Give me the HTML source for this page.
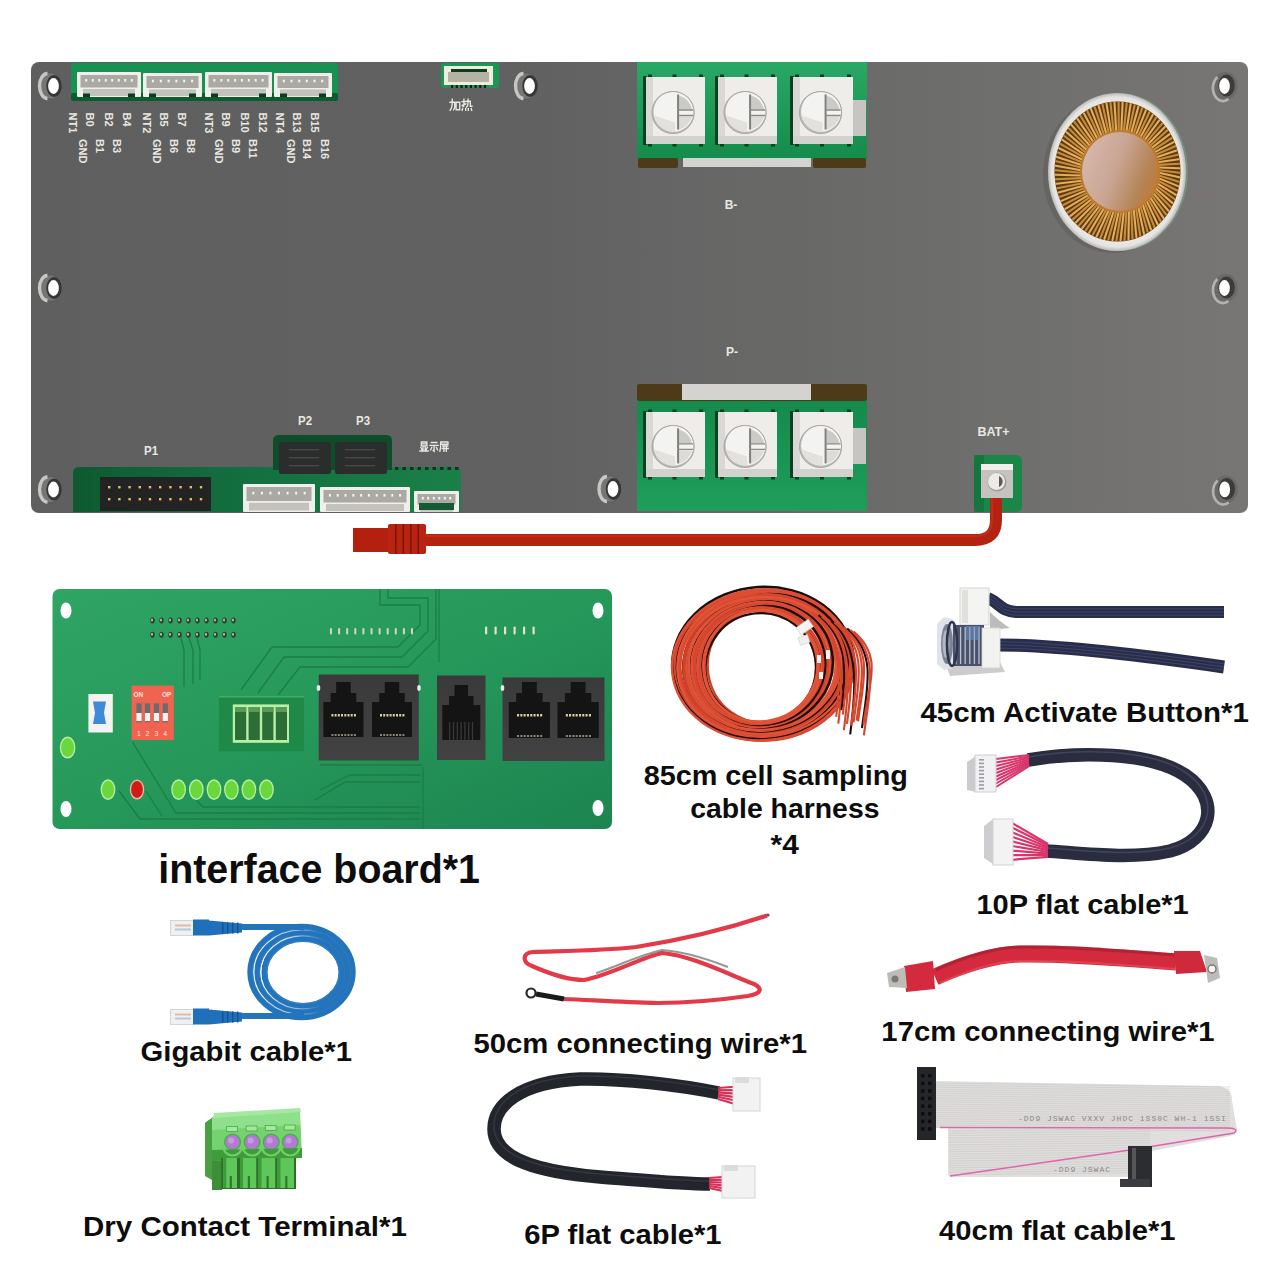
<!DOCTYPE html>
<html><head><meta charset="utf-8"><title>BMS board kit</title>
<style>
html,body{margin:0;padding:0;background:#fff;width:1280px;height:1280px;overflow:hidden}
svg{display:block}
.lb{font-family:"Liberation Sans",sans-serif;font-weight:bold;fill:#0d0d0d}
.sm{font-family:"Liberation Sans",sans-serif;font-weight:bold;fill:#e9e8e2}
</style></head><body>
<svg width="1280" height="1280" viewBox="0 0 1280 1280">
<defs>
 <linearGradient id="gBoard" x1="0" x2="1" y1="0" y2="0">
  <stop offset="0" stop-color="#5f5f5f"/><stop offset="0.4" stop-color="#616161"/><stop offset="0.7" stop-color="#6b6b6a"/><stop offset="1" stop-color="#777674"/>
 </linearGradient>
 <linearGradient id="gGreenT" x1="0" x2="0" y1="0" y2="1">
  <stop offset="0" stop-color="#2aa866"/><stop offset="1" stop-color="#148c4b"/>
 </linearGradient>
 <linearGradient id="gGreenB" x1="0" x2="0" y1="0" y2="1">
  <stop offset="0" stop-color="#13874a"/><stop offset="1" stop-color="#1f9e5a"/>
 </linearGradient>
 <linearGradient id="gGreenBL" x1="0" x2="1" y1="0" y2="0">
  <stop offset="0" stop-color="#0e5a30"/><stop offset="0.45" stop-color="#137040"/><stop offset="1" stop-color="#1a8047"/>
 </linearGradient>
 <linearGradient id="gIface" x1="0" x2="1" y1="0" y2="1">
  <stop offset="0" stop-color="#2fa464"/><stop offset="0.45" stop-color="#279a5b"/><stop offset="1" stop-color="#1c8450"/>
 </linearGradient>
 <linearGradient id="gCore" x1="0" x2="1" y1="0.3" y2="0.7">
  <stop offset="0" stop-color="#d6b8ad"/><stop offset="0.45" stop-color="#c9a492"/><stop offset="0.8" stop-color="#b58458"/><stop offset="1" stop-color="#c07a32"/>
 </linearGradient>
 <radialGradient id="gDisk" cx="0.5" cy="0.5" r="0.5">
  <stop offset="0.8" stop-color="#f1f0ec"/><stop offset="0.95" stop-color="#e4e3df"/><stop offset="1" stop-color="#b9b8b4"/>
 </radialGradient>
 <linearGradient id="gRJ" x1="0" x2="0" y1="0" y2="1">
  <stop offset="0" stop-color="#3a3a3a"/><stop offset="1" stop-color="#424242"/>
 </linearGradient>
</defs>
<rect width="1280" height="1280" fill="#fff"/>

<g id="main">
<rect x="31" y="62" width="1217" height="451" rx="8" fill="url(#gBoard)"/>
<rect x="71" y="63" width="267" height="38" rx="3" fill="#189253"/>
<rect x="71" y="93" width="267" height="8" rx="2" fill="#0d5c30"/>
<rect x="77" y="72" width="64" height="25" fill="#f0efeb" rx="1"/>
<rect x="80.5" y="75" width="57" height="12.5" fill="#aaa9a4"/>
<rect x="83" y="89.0" width="52" height="7.0" fill="#c3c2bd"/>
<rect x="83" y="93.5" width="7" height="3.5" fill="#0c3b1e"/>
<rect x="128" y="93.5" width="7" height="3.5" fill="#0c3b1e"/>
<rect x="85.2" y="79.0" width="2" height="2.6" fill="#f7f4e8"/>
<rect x="91.8" y="79.0" width="2" height="2.6" fill="#f7f4e8"/>
<rect x="98.2" y="79.0" width="2" height="2.6" fill="#f7f4e8"/>
<rect x="104.8" y="79.0" width="2" height="2.6" fill="#f7f4e8"/>
<rect x="111.2" y="79.0" width="2" height="2.6" fill="#f7f4e8"/>
<rect x="117.8" y="79.0" width="2" height="2.6" fill="#f7f4e8"/>
<rect x="124.2" y="79.0" width="2" height="2.6" fill="#f7f4e8"/>
<rect x="130.8" y="79.0" width="2" height="2.6" fill="#f7f4e8"/>
<rect x="143" y="73" width="59" height="24" fill="#f0efeb" rx="1"/>
<rect x="146.5" y="76" width="52" height="12.0" fill="#aaa9a4"/>
<rect x="149" y="89.4" width="47" height="6.7" fill="#c3c2bd"/>
<rect x="149" y="93.5" width="7" height="3.5" fill="#0c3b1e"/>
<rect x="189" y="93.5" width="7" height="3.5" fill="#0c3b1e"/>
<rect x="151.9" y="79.7" width="2" height="2.6" fill="#f7f4e8"/>
<rect x="159.8" y="79.7" width="2" height="2.6" fill="#f7f4e8"/>
<rect x="167.6" y="79.7" width="2" height="2.6" fill="#f7f4e8"/>
<rect x="175.4" y="79.7" width="2" height="2.6" fill="#f7f4e8"/>
<rect x="183.2" y="79.7" width="2" height="2.6" fill="#f7f4e8"/>
<rect x="191.1" y="79.7" width="2" height="2.6" fill="#f7f4e8"/>
<rect x="205" y="72" width="67" height="25" fill="#f0efeb" rx="1"/>
<rect x="208.5" y="75" width="60" height="12.5" fill="#aaa9a4"/>
<rect x="211" y="89.0" width="55" height="7.0" fill="#c3c2bd"/>
<rect x="211" y="93.5" width="7" height="3.5" fill="#0c3b1e"/>
<rect x="259" y="93.5" width="7" height="3.5" fill="#0c3b1e"/>
<rect x="213.4" y="79.0" width="2" height="2.6" fill="#f7f4e8"/>
<rect x="220.3" y="79.0" width="2" height="2.6" fill="#f7f4e8"/>
<rect x="227.2" y="79.0" width="2" height="2.6" fill="#f7f4e8"/>
<rect x="234.1" y="79.0" width="2" height="2.6" fill="#f7f4e8"/>
<rect x="240.9" y="79.0" width="2" height="2.6" fill="#f7f4e8"/>
<rect x="247.8" y="79.0" width="2" height="2.6" fill="#f7f4e8"/>
<rect x="254.7" y="79.0" width="2" height="2.6" fill="#f7f4e8"/>
<rect x="261.6" y="79.0" width="2" height="2.6" fill="#f7f4e8"/>
<rect x="274" y="73" width="58" height="24" fill="#f0efeb" rx="1"/>
<rect x="277.5" y="76" width="51" height="12.0" fill="#aaa9a4"/>
<rect x="280" y="89.4" width="46" height="6.7" fill="#c3c2bd"/>
<rect x="280" y="93.5" width="7" height="3.5" fill="#0c3b1e"/>
<rect x="319" y="93.5" width="7" height="3.5" fill="#0c3b1e"/>
<rect x="282.8" y="79.7" width="2" height="2.6" fill="#f7f4e8"/>
<rect x="290.5" y="79.7" width="2" height="2.6" fill="#f7f4e8"/>
<rect x="298.2" y="79.7" width="2" height="2.6" fill="#f7f4e8"/>
<rect x="305.8" y="79.7" width="2" height="2.6" fill="#f7f4e8"/>
<rect x="313.5" y="79.7" width="2" height="2.6" fill="#f7f4e8"/>
<rect x="321.2" y="79.7" width="2" height="2.6" fill="#f7f4e8"/>
<text class="sm" font-size="11" transform="translate(69.2,112.5) rotate(90)">NT1</text>
<text class="sm" font-size="11" transform="translate(86.2,112.5) rotate(90)">B0</text>
<text class="sm" font-size="11" transform="translate(104.8,112.5) rotate(90)">B2</text>
<text class="sm" font-size="11" transform="translate(123.4,112.5) rotate(90)">B4</text>
<text class="sm" font-size="11" transform="translate(142.5,112.5) rotate(90)">NT2</text>
<text class="sm" font-size="11" transform="translate(160.0,112.5) rotate(90)">B5</text>
<text class="sm" font-size="11" transform="translate(177.5,112.5) rotate(90)">B7</text>
<text class="sm" font-size="11" transform="translate(204.8,112.5) rotate(90)">NT3</text>
<text class="sm" font-size="11" transform="translate(222.4,112.5) rotate(90)">B9</text>
<text class="sm" font-size="11" transform="translate(241.0,112.5) rotate(90)">B10</text>
<text class="sm" font-size="11" transform="translate(258.7,112.5) rotate(90)">B12</text>
<text class="sm" font-size="11" transform="translate(276.3,112.5) rotate(90)">NT4</text>
<text class="sm" font-size="11" transform="translate(292.7,112.5) rotate(90)">B13</text>
<text class="sm" font-size="11" transform="translate(311.4,112.5) rotate(90)">B15</text>
<text class="sm" font-size="11" transform="translate(79.4,139.0) rotate(90)">GND</text>
<text class="sm" font-size="11" transform="translate(95.8,139.0) rotate(90)">B1</text>
<text class="sm" font-size="11" transform="translate(113.4,139.0) rotate(90)">B3</text>
<text class="sm" font-size="11" transform="translate(153.3,139.0) rotate(90)">GND</text>
<text class="sm" font-size="11" transform="translate(169.7,139.0) rotate(90)">B6</text>
<text class="sm" font-size="11" transform="translate(187.2,139.0) rotate(90)">B8</text>
<text class="sm" font-size="11" transform="translate(215.4,139.0) rotate(90)">GND</text>
<text class="sm" font-size="11" transform="translate(231.8,139.0) rotate(90)">B9</text>
<text class="sm" font-size="11" transform="translate(249.3,139.0) rotate(90)">B11</text>
<text class="sm" font-size="11" transform="translate(286.8,139.0) rotate(90)">GND</text>
<text class="sm" font-size="11" transform="translate(303.2,139.0) rotate(90)">B14</text>
<text class="sm" font-size="11" transform="translate(320.8,139.0) rotate(90)">B16</text>
<rect x="441" y="63" width="58" height="25" rx="3" fill="#1b9656"/>
<rect x="444" y="66" width="49" height="19" fill="#efeedd"/>
<rect x="448" y="72" width="41" height="10" fill="#b3b2a4"/>
<rect x="451" y="69" width="36" height="3" fill="#0c3b1e"/>
<rect x="451.0" y="85" width="2.2" height="3" fill="#1a1a1a"/>
<rect x="455.7" y="85" width="2.2" height="3" fill="#1a1a1a"/>
<rect x="460.4" y="85" width="2.2" height="3" fill="#1a1a1a"/>
<rect x="465.1" y="85" width="2.2" height="3" fill="#1a1a1a"/>
<rect x="469.8" y="85" width="2.2" height="3" fill="#1a1a1a"/>
<rect x="474.5" y="85" width="2.2" height="3" fill="#1a1a1a"/>
<rect x="479.2" y="85" width="2.2" height="3" fill="#1a1a1a"/>
<rect x="483.9" y="85" width="2.2" height="3" fill="#1a1a1a"/>
<rect x="637" y="62" width="230" height="97" fill="url(#gGreenT)"/>
<rect x="638" y="158" width="40" height="10" rx="2" fill="#4c3a18"/>
<rect x="683" y="158" width="128" height="9" fill="#d4d3cf"/>
<rect x="813" y="158" width="53" height="10" rx="2" fill="#4c3a18"/>
<rect x="853" y="100" width="13" height="36" fill="#c6c5c1"/>
<rect x="643" y="76" width="4" height="69" fill="#0b3f20"/>
<rect x="648.0" y="74.5" width="4" height="3" fill="#0b3f20"/>
<rect x="648.0" y="143.5" width="4" height="3" fill="#0b3f20"/>
<rect x="672.5" y="74.5" width="4" height="3" fill="#0b3f20"/>
<rect x="672.5" y="143.5" width="4" height="3" fill="#0b3f20"/>
<rect x="699.0" y="74.5" width="4" height="3" fill="#0b3f20"/>
<rect x="699.0" y="143.5" width="4" height="3" fill="#0b3f20"/>
<rect x="646" y="77" width="59" height="67" fill="#eeedea"/>
<rect x="646" y="77" width="7" height="67" fill="#d9d8d4"/>
<rect x="646" y="136" width="59" height="8" fill="#d3d2ce"/>
<circle cx="673.1" cy="112.5" r="21.5" fill="#bdbcb8"/>
<circle cx="673.6" cy="111.7" r="20" fill="#f3f3f1"/>
<path d="M654.1,115.5 A20,20 0 0 0 675.1,131.5 L675.1,122.5 Z" fill="#e2e1dd"/>
<path d="M679.1,95.5 A20,20 0 0 1 692.1,109.5 L679.1,109.5 Z" fill="#cbcac6"/>
<path d="M679.1,116.5 L692.1,116.5 A20,20 0 0 1 679.1,129.5 Z" fill="#dcdbd7"/>
<path d="M678.1,94.5 L678.1,129.5" stroke="#7f7e7a" stroke-width="2"/>
<path d="M678.1,110.0 L693.1,110.0 M678.1,115.5 L693.1,115.5" stroke="#8b8a86" stroke-width="1.4"/>
<circle cx="673.1" cy="112.5" r="21" fill="none" stroke="#a9a8a4" stroke-width="1"/>
<rect x="715" y="76" width="4" height="69" fill="#0b3f20"/>
<rect x="720.0" y="74.5" width="4" height="3" fill="#0b3f20"/>
<rect x="720.0" y="143.5" width="4" height="3" fill="#0b3f20"/>
<rect x="744.5" y="74.5" width="4" height="3" fill="#0b3f20"/>
<rect x="744.5" y="143.5" width="4" height="3" fill="#0b3f20"/>
<rect x="771.0" y="74.5" width="4" height="3" fill="#0b3f20"/>
<rect x="771.0" y="143.5" width="4" height="3" fill="#0b3f20"/>
<rect x="718" y="77" width="59" height="67" fill="#eeedea"/>
<rect x="718" y="77" width="7" height="67" fill="#d9d8d4"/>
<rect x="718" y="136" width="59" height="8" fill="#d3d2ce"/>
<circle cx="745.1" cy="112.5" r="21.5" fill="#bdbcb8"/>
<circle cx="745.6" cy="111.7" r="20" fill="#f3f3f1"/>
<path d="M726.1,115.5 A20,20 0 0 0 747.1,131.5 L747.1,122.5 Z" fill="#e2e1dd"/>
<path d="M751.1,95.5 A20,20 0 0 1 764.1,109.5 L751.1,109.5 Z" fill="#cbcac6"/>
<path d="M751.1,116.5 L764.1,116.5 A20,20 0 0 1 751.1,129.5 Z" fill="#dcdbd7"/>
<path d="M750.1,94.5 L750.1,129.5" stroke="#7f7e7a" stroke-width="2"/>
<path d="M750.1,110.0 L765.1,110.0 M750.1,115.5 L765.1,115.5" stroke="#8b8a86" stroke-width="1.4"/>
<circle cx="745.1" cy="112.5" r="21" fill="none" stroke="#a9a8a4" stroke-width="1"/>
<rect x="790" y="76" width="4" height="69" fill="#0b3f20"/>
<rect x="795.0" y="74.5" width="4" height="3" fill="#0b3f20"/>
<rect x="795.0" y="143.5" width="4" height="3" fill="#0b3f20"/>
<rect x="820.0" y="74.5" width="4" height="3" fill="#0b3f20"/>
<rect x="820.0" y="143.5" width="4" height="3" fill="#0b3f20"/>
<rect x="847.0" y="74.5" width="4" height="3" fill="#0b3f20"/>
<rect x="847.0" y="143.5" width="4" height="3" fill="#0b3f20"/>
<rect x="793" y="77" width="60" height="67" fill="#eeedea"/>
<rect x="793" y="77" width="7" height="67" fill="#d9d8d4"/>
<rect x="793" y="136" width="60" height="8" fill="#d3d2ce"/>
<circle cx="820.6" cy="112.5" r="21.5" fill="#bdbcb8"/>
<circle cx="821.1" cy="111.7" r="20" fill="#f3f3f1"/>
<path d="M801.6,115.5 A20,20 0 0 0 822.6,131.5 L822.6,122.5 Z" fill="#e2e1dd"/>
<path d="M826.6,95.5 A20,20 0 0 1 839.6,109.5 L826.6,109.5 Z" fill="#cbcac6"/>
<path d="M826.6,116.5 L839.6,116.5 A20,20 0 0 1 826.6,129.5 Z" fill="#dcdbd7"/>
<path d="M825.6,94.5 L825.6,129.5" stroke="#7f7e7a" stroke-width="2"/>
<path d="M825.6,110.0 L840.6,110.0 M825.6,115.5 L840.6,115.5" stroke="#8b8a86" stroke-width="1.4"/>
<circle cx="820.6" cy="112.5" r="21" fill="none" stroke="#a9a8a4" stroke-width="1"/>
<rect x="637" y="384" width="230" height="127" fill="url(#gGreenB)"/>
<rect x="637" y="384" width="230" height="17" rx="3" fill="#4c3a18"/>
<rect x="682" y="384" width="129" height="16" fill="#d4d3cf"/>
<rect x="853" y="428" width="13" height="36" fill="#c6c5c1"/>
<rect x="643" y="411" width="4" height="67" fill="#0b3f20"/>
<rect x="648.0" y="409.5" width="4" height="3" fill="#0b3f20"/>
<rect x="648.0" y="476.5" width="4" height="3" fill="#0b3f20"/>
<rect x="672.5" y="409.5" width="4" height="3" fill="#0b3f20"/>
<rect x="672.5" y="476.5" width="4" height="3" fill="#0b3f20"/>
<rect x="699.0" y="409.5" width="4" height="3" fill="#0b3f20"/>
<rect x="699.0" y="476.5" width="4" height="3" fill="#0b3f20"/>
<rect x="646" y="412" width="59" height="65" fill="#eeedea"/>
<rect x="646" y="412" width="7" height="65" fill="#d9d8d4"/>
<rect x="646" y="469" width="59" height="8" fill="#d3d2ce"/>
<circle cx="673.1" cy="446.4" r="21.5" fill="#bdbcb8"/>
<circle cx="673.6" cy="445.6" r="20" fill="#f3f3f1"/>
<path d="M654.1,449.4 A20,20 0 0 0 675.1,465.4 L675.1,456.4 Z" fill="#e2e1dd"/>
<path d="M679.1,429.4 A20,20 0 0 1 692.1,443.4 L679.1,443.4 Z" fill="#cbcac6"/>
<path d="M679.1,450.4 L692.1,450.4 A20,20 0 0 1 679.1,463.4 Z" fill="#dcdbd7"/>
<path d="M678.1,428.4 L678.1,463.4" stroke="#7f7e7a" stroke-width="2"/>
<path d="M678.1,443.9 L693.1,443.9 M678.1,449.4 L693.1,449.4" stroke="#8b8a86" stroke-width="1.4"/>
<circle cx="673.1" cy="446.4" r="21" fill="none" stroke="#a9a8a4" stroke-width="1"/>
<rect x="715" y="411" width="4" height="67" fill="#0b3f20"/>
<rect x="720.0" y="409.5" width="4" height="3" fill="#0b3f20"/>
<rect x="720.0" y="476.5" width="4" height="3" fill="#0b3f20"/>
<rect x="744.5" y="409.5" width="4" height="3" fill="#0b3f20"/>
<rect x="744.5" y="476.5" width="4" height="3" fill="#0b3f20"/>
<rect x="771.0" y="409.5" width="4" height="3" fill="#0b3f20"/>
<rect x="771.0" y="476.5" width="4" height="3" fill="#0b3f20"/>
<rect x="718" y="412" width="59" height="65" fill="#eeedea"/>
<rect x="718" y="412" width="7" height="65" fill="#d9d8d4"/>
<rect x="718" y="469" width="59" height="8" fill="#d3d2ce"/>
<circle cx="745.1" cy="446.4" r="21.5" fill="#bdbcb8"/>
<circle cx="745.6" cy="445.6" r="20" fill="#f3f3f1"/>
<path d="M726.1,449.4 A20,20 0 0 0 747.1,465.4 L747.1,456.4 Z" fill="#e2e1dd"/>
<path d="M751.1,429.4 A20,20 0 0 1 764.1,443.4 L751.1,443.4 Z" fill="#cbcac6"/>
<path d="M751.1,450.4 L764.1,450.4 A20,20 0 0 1 751.1,463.4 Z" fill="#dcdbd7"/>
<path d="M750.1,428.4 L750.1,463.4" stroke="#7f7e7a" stroke-width="2"/>
<path d="M750.1,443.9 L765.1,443.9 M750.1,449.4 L765.1,449.4" stroke="#8b8a86" stroke-width="1.4"/>
<circle cx="745.1" cy="446.4" r="21" fill="none" stroke="#a9a8a4" stroke-width="1"/>
<rect x="790" y="411" width="4" height="67" fill="#0b3f20"/>
<rect x="795.0" y="409.5" width="4" height="3" fill="#0b3f20"/>
<rect x="795.0" y="476.5" width="4" height="3" fill="#0b3f20"/>
<rect x="820.0" y="409.5" width="4" height="3" fill="#0b3f20"/>
<rect x="820.0" y="476.5" width="4" height="3" fill="#0b3f20"/>
<rect x="847.0" y="409.5" width="4" height="3" fill="#0b3f20"/>
<rect x="847.0" y="476.5" width="4" height="3" fill="#0b3f20"/>
<rect x="793" y="412" width="60" height="65" fill="#eeedea"/>
<rect x="793" y="412" width="7" height="65" fill="#d9d8d4"/>
<rect x="793" y="469" width="60" height="8" fill="#d3d2ce"/>
<circle cx="820.6" cy="446.4" r="21.5" fill="#bdbcb8"/>
<circle cx="821.1" cy="445.6" r="20" fill="#f3f3f1"/>
<path d="M801.6,449.4 A20,20 0 0 0 822.6,465.4 L822.6,456.4 Z" fill="#e2e1dd"/>
<path d="M826.6,429.4 A20,20 0 0 1 839.6,443.4 L826.6,443.4 Z" fill="#cbcac6"/>
<path d="M826.6,450.4 L839.6,450.4 A20,20 0 0 1 826.6,463.4 Z" fill="#dcdbd7"/>
<path d="M825.6,428.4 L825.6,463.4" stroke="#7f7e7a" stroke-width="2"/>
<path d="M825.6,443.9 L840.6,443.9 M825.6,449.4 L840.6,449.4" stroke="#8b8a86" stroke-width="1.4"/>
<circle cx="820.6" cy="446.4" r="21" fill="none" stroke="#a9a8a4" stroke-width="1"/>
<ellipse cx="1113" cy="174" rx="70" ry="79" fill="#4f4f4e" opacity="0.35"/>
<ellipse cx="1119" cy="172" rx="69" ry="79" fill="#6fb08e" opacity="0.5"/>
<ellipse cx="1117" cy="172" rx="69" ry="79" fill="url(#gDisk)"/>
<ellipse cx="1117.5" cy="171.5" rx="63" ry="70" fill="#5b3b12"/>
<line x1="1159.0" y1="172.8" x2="1179.3" y2="177.2" stroke="#e3ad5c" stroke-width="2.1" stroke-linecap="round"/>
<line x1="1158.8" y1="175.5" x2="1178.8" y2="181.7" stroke="#c98b3a" stroke-width="2.1" stroke-linecap="round"/>
<line x1="1158.5" y1="178.1" x2="1178.1" y2="186.1" stroke="#e3ad5c" stroke-width="2.1" stroke-linecap="round"/>
<line x1="1158.0" y1="180.7" x2="1177.1" y2="190.5" stroke="#c98b3a" stroke-width="2.1" stroke-linecap="round"/>
<line x1="1157.3" y1="183.3" x2="1175.9" y2="194.8" stroke="#e3ad5c" stroke-width="2.1" stroke-linecap="round"/>
<line x1="1156.5" y1="185.8" x2="1174.4" y2="199.0" stroke="#c98b3a" stroke-width="2.1" stroke-linecap="round"/>
<line x1="1155.5" y1="188.2" x2="1172.6" y2="203.1" stroke="#e3ad5c" stroke-width="2.1" stroke-linecap="round"/>
<line x1="1154.4" y1="190.6" x2="1170.7" y2="207.0" stroke="#c98b3a" stroke-width="2.1" stroke-linecap="round"/>
<line x1="1153.1" y1="192.9" x2="1168.4" y2="210.8" stroke="#e3ad5c" stroke-width="2.1" stroke-linecap="round"/>
<line x1="1151.7" y1="195.1" x2="1166.0" y2="214.4" stroke="#c98b3a" stroke-width="2.1" stroke-linecap="round"/>
<line x1="1150.1" y1="197.2" x2="1163.4" y2="217.9" stroke="#e3ad5c" stroke-width="2.1" stroke-linecap="round"/>
<line x1="1148.5" y1="199.2" x2="1160.6" y2="221.1" stroke="#c98b3a" stroke-width="2.1" stroke-linecap="round"/>
<line x1="1146.7" y1="201.1" x2="1157.6" y2="224.2" stroke="#e3ad5c" stroke-width="2.1" stroke-linecap="round"/>
<line x1="1144.7" y1="202.8" x2="1154.4" y2="227.0" stroke="#c98b3a" stroke-width="2.1" stroke-linecap="round"/>
<line x1="1142.7" y1="204.4" x2="1151.0" y2="229.5" stroke="#e3ad5c" stroke-width="2.1" stroke-linecap="round"/>
<line x1="1140.6" y1="205.9" x2="1147.6" y2="231.8" stroke="#c98b3a" stroke-width="2.1" stroke-linecap="round"/>
<line x1="1138.4" y1="207.2" x2="1144.0" y2="233.9" stroke="#e3ad5c" stroke-width="2.1" stroke-linecap="round"/>
<line x1="1136.1" y1="208.4" x2="1140.2" y2="235.7" stroke="#c98b3a" stroke-width="2.1" stroke-linecap="round"/>
<line x1="1133.7" y1="209.4" x2="1136.4" y2="237.2" stroke="#e3ad5c" stroke-width="2.1" stroke-linecap="round"/>
<line x1="1131.3" y1="210.3" x2="1132.5" y2="238.4" stroke="#c98b3a" stroke-width="2.1" stroke-linecap="round"/>
<line x1="1128.9" y1="210.9" x2="1128.5" y2="239.4" stroke="#e3ad5c" stroke-width="2.1" stroke-linecap="round"/>
<line x1="1126.4" y1="211.5" x2="1124.5" y2="240.1" stroke="#c98b3a" stroke-width="2.1" stroke-linecap="round"/>
<line x1="1123.8" y1="211.8" x2="1120.5" y2="240.4" stroke="#e3ad5c" stroke-width="2.1" stroke-linecap="round"/>
<line x1="1121.3" y1="212.0" x2="1116.4" y2="240.5" stroke="#c98b3a" stroke-width="2.1" stroke-linecap="round"/>
<line x1="1118.7" y1="212.0" x2="1112.4" y2="240.3" stroke="#e3ad5c" stroke-width="2.1" stroke-linecap="round"/>
<line x1="1116.2" y1="211.8" x2="1108.3" y2="239.7" stroke="#c98b3a" stroke-width="2.1" stroke-linecap="round"/>
<line x1="1113.6" y1="211.5" x2="1104.4" y2="238.9" stroke="#e3ad5c" stroke-width="2.1" stroke-linecap="round"/>
<line x1="1111.1" y1="210.9" x2="1100.4" y2="237.8" stroke="#c98b3a" stroke-width="2.1" stroke-linecap="round"/>
<line x1="1108.7" y1="210.3" x2="1096.6" y2="236.4" stroke="#e3ad5c" stroke-width="2.1" stroke-linecap="round"/>
<line x1="1106.3" y1="209.4" x2="1092.8" y2="234.8" stroke="#c98b3a" stroke-width="2.1" stroke-linecap="round"/>
<line x1="1103.9" y1="208.4" x2="1089.1" y2="232.8" stroke="#e3ad5c" stroke-width="2.1" stroke-linecap="round"/>
<line x1="1101.6" y1="207.2" x2="1085.6" y2="230.7" stroke="#c98b3a" stroke-width="2.1" stroke-linecap="round"/>
<line x1="1099.4" y1="205.9" x2="1082.2" y2="228.2" stroke="#e3ad5c" stroke-width="2.1" stroke-linecap="round"/>
<line x1="1097.3" y1="204.4" x2="1078.9" y2="225.5" stroke="#c98b3a" stroke-width="2.1" stroke-linecap="round"/>
<line x1="1095.3" y1="202.8" x2="1075.8" y2="222.6" stroke="#e3ad5c" stroke-width="2.1" stroke-linecap="round"/>
<line x1="1093.3" y1="201.1" x2="1072.9" y2="219.4" stroke="#c98b3a" stroke-width="2.1" stroke-linecap="round"/>
<line x1="1091.5" y1="199.2" x2="1070.2" y2="216.1" stroke="#e3ad5c" stroke-width="2.1" stroke-linecap="round"/>
<line x1="1089.9" y1="197.2" x2="1067.7" y2="212.6" stroke="#c98b3a" stroke-width="2.1" stroke-linecap="round"/>
<line x1="1088.3" y1="195.1" x2="1065.4" y2="208.8" stroke="#e3ad5c" stroke-width="2.1" stroke-linecap="round"/>
<line x1="1086.9" y1="192.9" x2="1063.3" y2="205.0" stroke="#c98b3a" stroke-width="2.1" stroke-linecap="round"/>
<line x1="1085.6" y1="190.6" x2="1061.4" y2="200.9" stroke="#e3ad5c" stroke-width="2.1" stroke-linecap="round"/>
<line x1="1084.5" y1="188.2" x2="1059.8" y2="196.8" stroke="#c98b3a" stroke-width="2.1" stroke-linecap="round"/>
<line x1="1083.5" y1="185.8" x2="1058.5" y2="192.5" stroke="#e3ad5c" stroke-width="2.1" stroke-linecap="round"/>
<line x1="1082.7" y1="183.3" x2="1057.3" y2="188.2" stroke="#c98b3a" stroke-width="2.1" stroke-linecap="round"/>
<line x1="1082.0" y1="180.7" x2="1056.5" y2="183.8" stroke="#e3ad5c" stroke-width="2.1" stroke-linecap="round"/>
<line x1="1081.5" y1="178.1" x2="1055.9" y2="179.3" stroke="#c98b3a" stroke-width="2.1" stroke-linecap="round"/>
<line x1="1081.2" y1="175.5" x2="1055.6" y2="174.8" stroke="#e3ad5c" stroke-width="2.1" stroke-linecap="round"/>
<line x1="1081.0" y1="172.8" x2="1055.5" y2="170.3" stroke="#c98b3a" stroke-width="2.1" stroke-linecap="round"/>
<line x1="1081.0" y1="170.2" x2="1055.7" y2="165.8" stroke="#e3ad5c" stroke-width="2.1" stroke-linecap="round"/>
<line x1="1081.2" y1="167.5" x2="1056.2" y2="161.3" stroke="#c98b3a" stroke-width="2.1" stroke-linecap="round"/>
<line x1="1081.5" y1="164.9" x2="1056.9" y2="156.9" stroke="#e3ad5c" stroke-width="2.1" stroke-linecap="round"/>
<line x1="1082.0" y1="162.3" x2="1057.9" y2="152.5" stroke="#c98b3a" stroke-width="2.1" stroke-linecap="round"/>
<line x1="1082.7" y1="159.7" x2="1059.1" y2="148.2" stroke="#e3ad5c" stroke-width="2.1" stroke-linecap="round"/>
<line x1="1083.5" y1="157.2" x2="1060.6" y2="144.0" stroke="#c98b3a" stroke-width="2.1" stroke-linecap="round"/>
<line x1="1084.5" y1="154.8" x2="1062.4" y2="139.9" stroke="#e3ad5c" stroke-width="2.1" stroke-linecap="round"/>
<line x1="1085.6" y1="152.4" x2="1064.3" y2="136.0" stroke="#c98b3a" stroke-width="2.1" stroke-linecap="round"/>
<line x1="1086.9" y1="150.1" x2="1066.6" y2="132.2" stroke="#e3ad5c" stroke-width="2.1" stroke-linecap="round"/>
<line x1="1088.3" y1="147.9" x2="1069.0" y2="128.6" stroke="#c98b3a" stroke-width="2.1" stroke-linecap="round"/>
<line x1="1089.9" y1="145.8" x2="1071.6" y2="125.1" stroke="#e3ad5c" stroke-width="2.1" stroke-linecap="round"/>
<line x1="1091.5" y1="143.8" x2="1074.4" y2="121.9" stroke="#c98b3a" stroke-width="2.1" stroke-linecap="round"/>
<line x1="1093.3" y1="141.9" x2="1077.4" y2="118.8" stroke="#e3ad5c" stroke-width="2.1" stroke-linecap="round"/>
<line x1="1095.3" y1="140.2" x2="1080.6" y2="116.0" stroke="#c98b3a" stroke-width="2.1" stroke-linecap="round"/>
<line x1="1097.3" y1="138.6" x2="1084.0" y2="113.5" stroke="#e3ad5c" stroke-width="2.1" stroke-linecap="round"/>
<line x1="1099.4" y1="137.1" x2="1087.4" y2="111.2" stroke="#c98b3a" stroke-width="2.1" stroke-linecap="round"/>
<line x1="1101.6" y1="135.8" x2="1091.0" y2="109.1" stroke="#e3ad5c" stroke-width="2.1" stroke-linecap="round"/>
<line x1="1103.9" y1="134.6" x2="1094.8" y2="107.3" stroke="#c98b3a" stroke-width="2.1" stroke-linecap="round"/>
<line x1="1106.3" y1="133.6" x2="1098.6" y2="105.8" stroke="#e3ad5c" stroke-width="2.1" stroke-linecap="round"/>
<line x1="1108.7" y1="132.7" x2="1102.5" y2="104.6" stroke="#c98b3a" stroke-width="2.1" stroke-linecap="round"/>
<line x1="1111.1" y1="132.1" x2="1106.5" y2="103.6" stroke="#e3ad5c" stroke-width="2.1" stroke-linecap="round"/>
<line x1="1113.6" y1="131.5" x2="1110.5" y2="102.9" stroke="#c98b3a" stroke-width="2.1" stroke-linecap="round"/>
<line x1="1116.2" y1="131.2" x2="1114.5" y2="102.6" stroke="#e3ad5c" stroke-width="2.1" stroke-linecap="round"/>
<line x1="1118.7" y1="131.0" x2="1118.6" y2="102.5" stroke="#c98b3a" stroke-width="2.1" stroke-linecap="round"/>
<line x1="1121.3" y1="131.0" x2="1122.6" y2="102.7" stroke="#e3ad5c" stroke-width="2.1" stroke-linecap="round"/>
<line x1="1123.8" y1="131.2" x2="1126.7" y2="103.3" stroke="#c98b3a" stroke-width="2.1" stroke-linecap="round"/>
<line x1="1126.4" y1="131.5" x2="1130.6" y2="104.1" stroke="#e3ad5c" stroke-width="2.1" stroke-linecap="round"/>
<line x1="1128.9" y1="132.1" x2="1134.6" y2="105.2" stroke="#c98b3a" stroke-width="2.1" stroke-linecap="round"/>
<line x1="1131.3" y1="132.7" x2="1138.4" y2="106.6" stroke="#e3ad5c" stroke-width="2.1" stroke-linecap="round"/>
<line x1="1133.7" y1="133.6" x2="1142.2" y2="108.2" stroke="#c98b3a" stroke-width="2.1" stroke-linecap="round"/>
<line x1="1136.1" y1="134.6" x2="1145.9" y2="110.2" stroke="#e3ad5c" stroke-width="2.1" stroke-linecap="round"/>
<line x1="1138.4" y1="135.8" x2="1149.4" y2="112.3" stroke="#c98b3a" stroke-width="2.1" stroke-linecap="round"/>
<line x1="1140.6" y1="137.1" x2="1152.8" y2="114.8" stroke="#e3ad5c" stroke-width="2.1" stroke-linecap="round"/>
<line x1="1142.7" y1="138.6" x2="1156.1" y2="117.5" stroke="#c98b3a" stroke-width="2.1" stroke-linecap="round"/>
<line x1="1144.7" y1="140.2" x2="1159.2" y2="120.4" stroke="#e3ad5c" stroke-width="2.1" stroke-linecap="round"/>
<line x1="1146.7" y1="141.9" x2="1162.1" y2="123.6" stroke="#c98b3a" stroke-width="2.1" stroke-linecap="round"/>
<line x1="1148.5" y1="143.8" x2="1164.8" y2="126.9" stroke="#e3ad5c" stroke-width="2.1" stroke-linecap="round"/>
<line x1="1150.1" y1="145.8" x2="1167.3" y2="130.4" stroke="#c98b3a" stroke-width="2.1" stroke-linecap="round"/>
<line x1="1151.7" y1="147.9" x2="1169.6" y2="134.2" stroke="#e3ad5c" stroke-width="2.1" stroke-linecap="round"/>
<line x1="1153.1" y1="150.1" x2="1171.7" y2="138.0" stroke="#c98b3a" stroke-width="2.1" stroke-linecap="round"/>
<line x1="1154.4" y1="152.4" x2="1173.6" y2="142.1" stroke="#e3ad5c" stroke-width="2.1" stroke-linecap="round"/>
<line x1="1155.5" y1="154.8" x2="1175.2" y2="146.2" stroke="#c98b3a" stroke-width="2.1" stroke-linecap="round"/>
<line x1="1156.5" y1="157.2" x2="1176.5" y2="150.5" stroke="#e3ad5c" stroke-width="2.1" stroke-linecap="round"/>
<line x1="1157.3" y1="159.7" x2="1177.7" y2="154.8" stroke="#c98b3a" stroke-width="2.1" stroke-linecap="round"/>
<line x1="1158.0" y1="162.3" x2="1178.5" y2="159.2" stroke="#e3ad5c" stroke-width="2.1" stroke-linecap="round"/>
<line x1="1158.5" y1="164.9" x2="1179.1" y2="163.7" stroke="#c98b3a" stroke-width="2.1" stroke-linecap="round"/>
<line x1="1158.8" y1="167.5" x2="1179.4" y2="168.2" stroke="#e3ad5c" stroke-width="2.1" stroke-linecap="round"/>
<line x1="1159.0" y1="170.2" x2="1179.5" y2="172.7" stroke="#c98b3a" stroke-width="2.1" stroke-linecap="round"/>
<ellipse cx="1120" cy="171.5" rx="40" ry="41.5" fill="#c07a2c"/>
<ellipse cx="1120" cy="171.5" rx="38" ry="39.5" fill="url(#gCore)"/>
<ellipse cx="49.5" cy="86" rx="12" ry="14" fill="#575755" opacity="0.5"/>
<ellipse cx="50.5" cy="86" rx="10" ry="12.8" fill="#767674"/>
<path d="M47.5,73.5 A8,12.5 0 0 0 47.5,98.5" fill="none" stroke="#c8c6c2" stroke-width="3.4"/>
<ellipse cx="54.0" cy="86" rx="7.7" ry="11" fill="#363634"/>
<ellipse cx="53.5" cy="86" rx="5.4" ry="7.9" fill="#fff"/>
<ellipse cx="49.5" cy="288" rx="12" ry="14" fill="#575755" opacity="0.5"/>
<ellipse cx="50.5" cy="288" rx="10" ry="12.8" fill="#767674"/>
<path d="M47.5,275.5 A8,12.5 0 0 0 47.5,300.5" fill="none" stroke="#c8c6c2" stroke-width="3.4"/>
<ellipse cx="54.0" cy="288" rx="7.7" ry="11" fill="#363634"/>
<ellipse cx="53.5" cy="288" rx="5.4" ry="7.9" fill="#fff"/>
<ellipse cx="49.5" cy="489.5" rx="12" ry="14" fill="#575755" opacity="0.5"/>
<ellipse cx="50.5" cy="489.5" rx="10" ry="12.8" fill="#767674"/>
<path d="M47.5,477.0 A8,12.5 0 0 0 47.5,502.0" fill="none" stroke="#c8c6c2" stroke-width="3.4"/>
<ellipse cx="54.0" cy="489.5" rx="7.7" ry="11" fill="#363634"/>
<ellipse cx="53.5" cy="489.5" rx="5.4" ry="7.9" fill="#fff"/>
<ellipse cx="525.5" cy="86" rx="12" ry="14" fill="#575755" opacity="0.5"/>
<ellipse cx="526.5" cy="86" rx="10" ry="12.8" fill="#767674"/>
<path d="M523.5,73.5 A8,12.5 0 0 0 523.5,98.5" fill="none" stroke="#c8c6c2" stroke-width="3.4"/>
<ellipse cx="530.0" cy="86" rx="7.7" ry="11" fill="#363634"/>
<ellipse cx="529.5" cy="86" rx="5.4" ry="7.9" fill="#fff"/>
<ellipse cx="609" cy="489" rx="12" ry="14" fill="#575755" opacity="0.5"/>
<ellipse cx="610" cy="489" rx="10" ry="12.8" fill="#767674"/>
<path d="M607,476.5 A8,12.5 0 0 0 607,501.5" fill="none" stroke="#c8c6c2" stroke-width="3.4"/>
<ellipse cx="613.5" cy="489" rx="7.7" ry="11" fill="#363634"/>
<ellipse cx="613" cy="489" rx="5.4" ry="7.9" fill="#fff"/>
<ellipse cx="1225.5" cy="86" rx="12" ry="14" fill="#5e5d5b" opacity="0.5"/>
<path d="M1217.5,77 A10,13 0 0 0 1228.5,99" fill="none" stroke="#b4b2ae" stroke-width="2.6"/>
<ellipse cx="1226.5" cy="85.5" rx="8.3" ry="11" fill="#3c3b39"/>
<ellipse cx="1224.5" cy="86" rx="5.4" ry="7.9" fill="#fff"/>
<ellipse cx="1225.5" cy="288" rx="12" ry="14" fill="#5e5d5b" opacity="0.5"/>
<path d="M1217.5,279 A10,13 0 0 0 1228.5,301" fill="none" stroke="#b4b2ae" stroke-width="2.6"/>
<ellipse cx="1226.5" cy="287.5" rx="8.3" ry="11" fill="#3c3b39"/>
<ellipse cx="1224.5" cy="288" rx="5.4" ry="7.9" fill="#fff"/>
<ellipse cx="1225.7" cy="489.4" rx="12" ry="14" fill="#5e5d5b" opacity="0.5"/>
<path d="M1217.7,480.4 A10,13 0 0 0 1228.7,502.4" fill="none" stroke="#b4b2ae" stroke-width="2.6"/>
<ellipse cx="1226.7" cy="488.9" rx="8.3" ry="11" fill="#3c3b39"/>
<ellipse cx="1224.7" cy="489.4" rx="5.4" ry="7.9" fill="#fff"/>
<path d="M73,512 L73,473 Q73,467 79,467 L273,467 L273,441 Q273,435 279,435 L386,435 Q392,435 392,441 L392,467 L455,467 Q461,467 461,473 L461,512 Z" fill="url(#gGreenBL)"/>
<path d="M273,470 L273,441 Q273,435 279,435 L386,435 Q392,435 392,441 L392,470 Z" fill="#0f4d2a"/>
<rect x="279" y="442" width="52" height="32" rx="2" fill="#2a2d2b"/>
<rect x="289" y="449" width="30" height="1.4" fill="#474a48"/>
<rect x="289" y="457" width="30" height="1.4" fill="#474a48"/>
<rect x="289" y="465" width="30" height="1.4" fill="#474a48"/>
<rect x="335" y="442" width="52" height="32" rx="2" fill="#2a2d2b"/>
<rect x="345" y="449" width="30" height="1.4" fill="#474a48"/>
<rect x="345" y="457" width="30" height="1.4" fill="#474a48"/>
<rect x="345" y="465" width="30" height="1.4" fill="#474a48"/>
<rect x="395.0" y="467" width="3.5" height="3" fill="#1a1a1a" opacity="0.8"/>
<rect x="402.5" y="467" width="3.5" height="3" fill="#1a1a1a" opacity="0.8"/>
<rect x="410.0" y="467" width="3.5" height="3" fill="#1a1a1a" opacity="0.8"/>
<rect x="417.5" y="467" width="3.5" height="3" fill="#1a1a1a" opacity="0.8"/>
<rect x="425.0" y="467" width="3.5" height="3" fill="#1a1a1a" opacity="0.8"/>
<rect x="432.5" y="467" width="3.5" height="3" fill="#1a1a1a" opacity="0.8"/>
<rect x="440.0" y="467" width="3.5" height="3" fill="#1a1a1a" opacity="0.8"/>
<rect x="447.5" y="467" width="3.5" height="3" fill="#1a1a1a" opacity="0.8"/>
<rect x="455.0" y="467" width="3.5" height="3" fill="#1a1a1a" opacity="0.8"/>
<rect x="100" y="477" width="111" height="34" fill="#232323"/>
<rect x="108.0" y="486" width="2.4" height="2.4" fill="#d8c26a"/>
<rect x="118.2" y="486" width="2.4" height="2.4" fill="#d8c26a"/>
<rect x="128.4" y="486" width="2.4" height="2.4" fill="#d8c26a"/>
<rect x="138.6" y="486" width="2.4" height="2.4" fill="#d8c26a"/>
<rect x="148.8" y="486" width="2.4" height="2.4" fill="#d8c26a"/>
<rect x="159.0" y="486" width="2.4" height="2.4" fill="#d8c26a"/>
<rect x="169.2" y="486" width="2.4" height="2.4" fill="#d8c26a"/>
<rect x="179.4" y="486" width="2.4" height="2.4" fill="#d8c26a"/>
<rect x="189.6" y="486" width="2.4" height="2.4" fill="#d8c26a"/>
<rect x="199.8" y="486" width="2.4" height="2.4" fill="#d8c26a"/>
<rect x="108.0" y="498" width="2.4" height="2.4" fill="#d8c26a"/>
<rect x="118.2" y="498" width="2.4" height="2.4" fill="#d8c26a"/>
<rect x="128.4" y="498" width="2.4" height="2.4" fill="#d8c26a"/>
<rect x="138.6" y="498" width="2.4" height="2.4" fill="#d8c26a"/>
<rect x="148.8" y="498" width="2.4" height="2.4" fill="#d8c26a"/>
<rect x="159.0" y="498" width="2.4" height="2.4" fill="#d8c26a"/>
<rect x="169.2" y="498" width="2.4" height="2.4" fill="#d8c26a"/>
<rect x="179.4" y="498" width="2.4" height="2.4" fill="#d8c26a"/>
<rect x="189.6" y="498" width="2.4" height="2.4" fill="#d8c26a"/>
<rect x="199.8" y="498" width="2.4" height="2.4" fill="#d8c26a"/>
<rect x="243" y="484" width="72" height="28" fill="#f0efeb" rx="1"/>
<rect x="246.5" y="487" width="65" height="14.0" fill="#aaa9a4"/>
<rect x="249" y="502.7" width="60" height="7.8" fill="#c3c2bd"/>
<rect x="252.3" y="491.8" width="2" height="2.6" fill="#f7f4e8"/>
<rect x="260.9" y="491.8" width="2" height="2.6" fill="#f7f4e8"/>
<rect x="269.4" y="491.8" width="2" height="2.6" fill="#f7f4e8"/>
<rect x="278.0" y="491.8" width="2" height="2.6" fill="#f7f4e8"/>
<rect x="286.6" y="491.8" width="2" height="2.6" fill="#f7f4e8"/>
<rect x="295.1" y="491.8" width="2" height="2.6" fill="#f7f4e8"/>
<rect x="303.7" y="491.8" width="2" height="2.6" fill="#f7f4e8"/>
<rect x="320" y="487" width="90" height="25" fill="#f0efeb" rx="1"/>
<rect x="323.5" y="490" width="83" height="12.5" fill="#aaa9a4"/>
<rect x="326" y="504.0" width="78" height="7.0" fill="#c3c2bd"/>
<rect x="328.9" y="494.0" width="2" height="2.6" fill="#f7f4e8"/>
<rect x="336.7" y="494.0" width="2" height="2.6" fill="#f7f4e8"/>
<rect x="344.5" y="494.0" width="2" height="2.6" fill="#f7f4e8"/>
<rect x="352.3" y="494.0" width="2" height="2.6" fill="#f7f4e8"/>
<rect x="360.1" y="494.0" width="2" height="2.6" fill="#f7f4e8"/>
<rect x="367.9" y="494.0" width="2" height="2.6" fill="#f7f4e8"/>
<rect x="375.7" y="494.0" width="2" height="2.6" fill="#f7f4e8"/>
<rect x="383.5" y="494.0" width="2" height="2.6" fill="#f7f4e8"/>
<rect x="391.3" y="494.0" width="2" height="2.6" fill="#f7f4e8"/>
<rect x="399.1" y="494.0" width="2" height="2.6" fill="#f7f4e8"/>
<rect x="414" y="491" width="45" height="21" fill="#f0efeb" rx="1"/>
<rect x="417.5" y="494" width="38" height="10.5" fill="#aaa9a4"/>
<rect x="420" y="505.8" width="33" height="5.9" fill="#c3c2bd"/>
<rect x="421.8" y="496.9" width="2" height="2.6" fill="#f7f4e8"/>
<rect x="427.2" y="496.9" width="2" height="2.6" fill="#f7f4e8"/>
<rect x="432.8" y="496.9" width="2" height="2.6" fill="#f7f4e8"/>
<rect x="438.2" y="496.9" width="2" height="2.6" fill="#f7f4e8"/>
<rect x="443.8" y="496.9" width="2" height="2.6" fill="#f7f4e8"/>
<rect x="449.2" y="496.9" width="2" height="2.6" fill="#f7f4e8"/>
<rect x="419" y="503" width="35" height="7" fill="#145a32"/>
<rect x="974" y="455" width="48" height="57" rx="6" fill="#1a8748"/>
<rect x="974" y="455" width="10" height="57" fill="#0f6a36" opacity="0.6"/>
<rect x="981" y="464" width="32" height="34" fill="#c4c3bf"/>
<rect x="981" y="464" width="32" height="6" fill="#f0efeb"/>
<circle cx="997" cy="482" r="9.5" fill="#9f9e9a"/>
<circle cx="996.5" cy="481.5" r="8.5" fill="#ecebe7"/>
<path d="M999,476 A6,6 0 0 1 999,487 Z" fill="#5b5a56"/>
<text class="sm" x="151" y="455" font-size="13.5" text-anchor="middle" transform="translate(151,0) scale(0.85,1) translate(-151,0)">P1</text>
<text class="sm" x="305" y="425.5" font-size="13.5" text-anchor="middle" transform="translate(305,0) scale(0.85,1) translate(-305,0)">P2</text>
<text class="sm" x="363" y="425.5" font-size="13.5" text-anchor="middle" transform="translate(363,0) scale(0.85,1) translate(-363,0)">P3</text>
<path d="M421.34,442.0 h5.52 v3.8 h-5.52 z M421.34,443.9 h5.52 M422.996,446.5 v3.8 M425.204,446.5 v3.8 M419.96,451.0 h8.28 M420.88,447.5 l1.1039999999999999,2.0 M427.32,447.5 l-1.1039999999999999,2.0" fill="none" stroke="#e9e8e2" stroke-width="1.35" stroke-linecap="square"/>
<path d="M431.34,442.5 h5.52 M429.96,445.3 h8.28 M434.1,445.3 v6.0 l-0.9199999999999999,-0.8 M431.8,447.3 l-1.1039999999999999,2.5 M436.4,447.3 l1.1039999999999999,2.5" fill="none" stroke="#e9e8e2" stroke-width="1.35" stroke-linecap="square"/>
<path d="M440.604,442.0 h7.359999999999999 v2.2 h-7.359999999999999 z M440.604,442.0 v5.5 l-0.736,3.8 M442.72,446.0 h5.06 M442.26,448.5 h5.9799999999999995 M443.916,446.0 v5.2 M446.308,446.0 v5.2" fill="none" stroke="#e9e8e2" stroke-width="1.35" stroke-linecap="square"/>
<path d="M450.05,102.25 h4.62 v5.625 l-1.1,1.875 M452.25,99.125 v3.125 q0,5.625 -2.2,8.125 M456.1,102.25 h3.6300000000000003 v7.5 h-3.6300000000000003 z" fill="none" stroke="#e9e8e2" stroke-width="1.35" stroke-linecap="square"/>
<path d="M462.05,101.625 h3.8499999999999996 M463.92,99.125 v6.875000000000001 l-0.88,0.625 M462.05,105.375 l3.8499999999999996,-1.5 M466.45,101.25 h3.8499999999999996 v5.0 h1.65 M468.1,99.125 v3.125 q0,3.75 -1.65,5.0 M462.6,108.5 l-0.55,1.875 M465.68,108.75 v1.5 M468.32,108.75 v1.5 M471.18,108.5 l0.55,1.875" fill="none" stroke="#e9e8e2" stroke-width="1.35" stroke-linecap="square"/>
<text class="sm" x="731" y="209" font-size="12" text-anchor="middle">B-</text>
<text class="sm" x="732" y="356" font-size="12" text-anchor="middle">P-</text>
<text class="sm" x="993.5" y="435.5" font-size="12.5" text-anchor="middle">BAT+</text>
</g>
<path d="M426,540 L975,540 Q996,540 996,520 L996,498" fill="none" stroke="#b42312" stroke-width="12"/>
<path d="M426,536 L975,536 Q992,536 992,520 L992,498" fill="none" stroke="#cc3a22" stroke-width="2" opacity="0.5"/>
<rect x="353" y="528" width="35" height="24" fill="#b4200f"/>
<rect x="388" y="524" width="38" height="30" rx="2" fill="#b82410"/>
<rect x="395.0" y="524" width="1.6" height="30" fill="#7c1508"/>
<rect x="402.5" y="524" width="1.6" height="30" fill="#7c1508"/>
<rect x="410.0" y="524" width="1.6" height="30" fill="#7c1508"/>
<rect x="417.5" y="524" width="1.6" height="30" fill="#7c1508"/>
<g id="iface">
<rect x="52.5" y="589" width="559.5" height="240" rx="7" fill="url(#gIface)"/>
<path d="M181,638 L184,650 L184,687" fill="none" stroke="#1b7e45" stroke-width="1.3"/>
<path d="M189,638 L193,650 L193,684" fill="none" stroke="#1b7e45" stroke-width="1.3"/>
<path d="M197,638 L200,650 L200,680" fill="none" stroke="#1b7e45" stroke-width="1.3"/>
<path d="M241,690 L272,647 L398,647 L420,625 L420,605 L380,605 L380,589" fill="none" stroke="#1b7e45" stroke-width="1.3"/>
<path d="M258,693 L284,657 L402,657 L428,631 L428,598 L388,598 L388,589" fill="none" stroke="#1b7e45" stroke-width="1.3"/>
<path d="M278,695 L300,667 L408,667 L436,639 L436,589" fill="none" stroke="#1b7e45" stroke-width="1.3"/>
<path d="M439,589 L439,662" fill="none" stroke="#1b7e45" stroke-width="1.3"/>
<path d="M423,767 L423,829" fill="none" stroke="#1b7e45" stroke-width="1.3"/>
<path d="M320,765 L423,765" fill="none" stroke="#1b7e45" stroke-width="1.3"/>
<path d="M132.5,742 L176,813 L420,813" fill="none" stroke="#1b7e45" stroke-width="1.3"/>
<path d="M119,791 L140,819 L420,819" fill="none" stroke="#1b7e45" stroke-width="1.3"/>
<path d="M146,791 L162,816" fill="none" stroke="#1b7e45" stroke-width="1.3"/>
<path d="M196.5,800 L203,807 L420,807" fill="none" stroke="#1b7e45" stroke-width="1.3"/>
<path d="M320,790 L350,775 L420,775" fill="none" stroke="#1b7e45" stroke-width="1.3"/>
<path d="M315,800 L345,782 L420,782" fill="none" stroke="#1b7e45" stroke-width="1.3"/>
<ellipse cx="66" cy="610.5" rx="5.5" ry="8" fill="#fff"/>
<ellipse cx="66" cy="809" rx="5.5" ry="8" fill="#fff"/>
<ellipse cx="598" cy="610.5" rx="5.5" ry="8" fill="#fff"/>
<ellipse cx="598" cy="808" rx="5.5" ry="8" fill="#fff"/>
<ellipse cx="152.5" cy="620.5" rx="2.2" ry="3" fill="#2d3b2c"/>
<ellipse cx="152.0" cy="620.0" rx="1" ry="1.5" fill="#b8c2a8" transform="translate(0,0)"/>
<ellipse cx="161.5" cy="620.5" rx="2.2" ry="3" fill="#2d3b2c"/>
<ellipse cx="152.0" cy="620.0" rx="1" ry="1.5" fill="#b8c2a8" transform="translate(9,0)"/>
<ellipse cx="170.5" cy="620.5" rx="2.2" ry="3" fill="#2d3b2c"/>
<ellipse cx="152.0" cy="620.0" rx="1" ry="1.5" fill="#b8c2a8" transform="translate(18,0)"/>
<ellipse cx="179.5" cy="620.5" rx="2.2" ry="3" fill="#2d3b2c"/>
<ellipse cx="152.0" cy="620.0" rx="1" ry="1.5" fill="#b8c2a8" transform="translate(27,0)"/>
<ellipse cx="188.5" cy="620.5" rx="2.2" ry="3" fill="#2d3b2c"/>
<ellipse cx="152.0" cy="620.0" rx="1" ry="1.5" fill="#b8c2a8" transform="translate(36,0)"/>
<ellipse cx="197.5" cy="620.5" rx="2.2" ry="3" fill="#2d3b2c"/>
<ellipse cx="152.0" cy="620.0" rx="1" ry="1.5" fill="#b8c2a8" transform="translate(45,0)"/>
<ellipse cx="206.5" cy="620.5" rx="2.2" ry="3" fill="#2d3b2c"/>
<ellipse cx="152.0" cy="620.0" rx="1" ry="1.5" fill="#b8c2a8" transform="translate(54,0)"/>
<ellipse cx="215.5" cy="620.5" rx="2.2" ry="3" fill="#2d3b2c"/>
<ellipse cx="152.0" cy="620.0" rx="1" ry="1.5" fill="#b8c2a8" transform="translate(63,0)"/>
<ellipse cx="224.5" cy="620.5" rx="2.2" ry="3" fill="#2d3b2c"/>
<ellipse cx="152.0" cy="620.0" rx="1" ry="1.5" fill="#b8c2a8" transform="translate(72,0)"/>
<ellipse cx="233.5" cy="620.5" rx="2.2" ry="3" fill="#2d3b2c"/>
<ellipse cx="152.0" cy="620.0" rx="1" ry="1.5" fill="#b8c2a8" transform="translate(81,0)"/>
<ellipse cx="152.5" cy="634.7" rx="2.2" ry="3" fill="#2d3b2c"/>
<ellipse cx="152.0" cy="634.2" rx="1" ry="1.5" fill="#b8c2a8" transform="translate(0,0)"/>
<ellipse cx="161.5" cy="634.7" rx="2.2" ry="3" fill="#2d3b2c"/>
<ellipse cx="152.0" cy="634.2" rx="1" ry="1.5" fill="#b8c2a8" transform="translate(9,0)"/>
<ellipse cx="170.5" cy="634.7" rx="2.2" ry="3" fill="#2d3b2c"/>
<ellipse cx="152.0" cy="634.2" rx="1" ry="1.5" fill="#b8c2a8" transform="translate(18,0)"/>
<ellipse cx="179.5" cy="634.7" rx="2.2" ry="3" fill="#2d3b2c"/>
<ellipse cx="152.0" cy="634.2" rx="1" ry="1.5" fill="#b8c2a8" transform="translate(27,0)"/>
<ellipse cx="188.5" cy="634.7" rx="2.2" ry="3" fill="#2d3b2c"/>
<ellipse cx="152.0" cy="634.2" rx="1" ry="1.5" fill="#b8c2a8" transform="translate(36,0)"/>
<ellipse cx="197.5" cy="634.7" rx="2.2" ry="3" fill="#2d3b2c"/>
<ellipse cx="152.0" cy="634.2" rx="1" ry="1.5" fill="#b8c2a8" transform="translate(45,0)"/>
<ellipse cx="206.5" cy="634.7" rx="2.2" ry="3" fill="#2d3b2c"/>
<ellipse cx="152.0" cy="634.2" rx="1" ry="1.5" fill="#b8c2a8" transform="translate(54,0)"/>
<ellipse cx="215.5" cy="634.7" rx="2.2" ry="3" fill="#2d3b2c"/>
<ellipse cx="152.0" cy="634.2" rx="1" ry="1.5" fill="#b8c2a8" transform="translate(63,0)"/>
<ellipse cx="224.5" cy="634.7" rx="2.2" ry="3" fill="#2d3b2c"/>
<ellipse cx="152.0" cy="634.2" rx="1" ry="1.5" fill="#b8c2a8" transform="translate(72,0)"/>
<ellipse cx="233.5" cy="634.7" rx="2.2" ry="3" fill="#2d3b2c"/>
<ellipse cx="152.0" cy="634.2" rx="1" ry="1.5" fill="#b8c2a8" transform="translate(81,0)"/>
<rect x="330.0" y="628" width="2" height="6.5" rx="1" fill="#d6d6c6"/>
<rect x="338.1" y="628" width="2" height="6.5" rx="1" fill="#d6d6c6"/>
<rect x="346.2" y="628" width="2" height="6.5" rx="1" fill="#d6d6c6"/>
<rect x="354.3" y="628" width="2" height="6.5" rx="1" fill="#d6d6c6"/>
<rect x="362.4" y="628" width="2" height="6.5" rx="1" fill="#d6d6c6"/>
<rect x="370.5" y="628" width="2" height="6.5" rx="1" fill="#d6d6c6"/>
<rect x="378.6" y="628" width="2" height="6.5" rx="1" fill="#d6d6c6"/>
<rect x="386.7" y="628" width="2" height="6.5" rx="1" fill="#d6d6c6"/>
<rect x="394.8" y="628" width="2" height="6.5" rx="1" fill="#d6d6c6"/>
<rect x="402.9" y="628" width="2" height="6.5" rx="1" fill="#d6d6c6"/>
<rect x="411.0" y="628" width="2" height="6.5" rx="1" fill="#d6d6c6"/>
<rect x="485.0" y="626.5" width="2.2" height="8" rx="1" fill="#e6e2c6"/>
<rect x="494.5" y="626.5" width="2.2" height="8" rx="1" fill="#e6e2c6"/>
<rect x="504.0" y="626.5" width="2.2" height="8" rx="1" fill="#e6e2c6"/>
<rect x="513.5" y="626.5" width="2.2" height="8" rx="1" fill="#e6e2c6"/>
<rect x="523.0" y="626.5" width="2.2" height="8" rx="1" fill="#e6e2c6"/>
<rect x="532.5" y="626.5" width="2.2" height="8" rx="1" fill="#e6e2c6"/>
<rect x="88.4" y="694" width="24.4" height="38.5" fill="#f3f3f3"/>
<path d="M93,701.6 L106,701.6 L104,712.8 L106,724 L93,724 L95,712.8 Z" fill="#3e8ad8"/>
<rect x="131.6" y="685.6" width="42.2" height="54.4" fill="#ef6350"/>
<rect x="136.4" y="703.4" width="5.2" height="18.8" fill="#6b6b6b"/>
<rect x="136.4" y="713" width="5.2" height="8" fill="#f2f2f2"/>
<text x="139.0" y="736" font-family="Liberation Sans" font-size="7" fill="#fbe4de" text-anchor="middle">1</text>
<rect x="144.9" y="703.4" width="5.2" height="18.8" fill="#6b6b6b"/>
<rect x="144.9" y="713" width="5.2" height="8" fill="#f2f2f2"/>
<text x="147.5" y="736" font-family="Liberation Sans" font-size="7" fill="#fbe4de" text-anchor="middle">2</text>
<rect x="153.9" y="703.4" width="5.2" height="18.8" fill="#6b6b6b"/>
<rect x="153.9" y="713" width="5.2" height="8" fill="#f2f2f2"/>
<text x="156.5" y="736" font-family="Liberation Sans" font-size="7" fill="#fbe4de" text-anchor="middle">3</text>
<rect x="162.7" y="703.4" width="5.2" height="18.8" fill="#6b6b6b"/>
<rect x="162.7" y="713" width="5.2" height="8" fill="#f2f2f2"/>
<text x="165.3" y="736" font-family="Liberation Sans" font-size="7" fill="#fbe4de" text-anchor="middle">4</text>
<text x="133.5" y="697" font-family="Liberation Sans" font-size="6.5" font-weight="bold" fill="#fbe4de">ON</text>
<text x="162" y="697" font-family="Liberation Sans" font-size="6.5" font-weight="bold" fill="#fbe4de">OP</text>
<rect x="218.8" y="696" width="85.2" height="55.2" fill="#1f8a47"/>
<rect x="218.8" y="696" width="85.2" height="1.5" fill="#3fae6a"/>
<rect x="232.8" y="704.4" width="56.2" height="38.4" fill="#b8f0aa"/>
<rect x="235.0" y="707" width="11.2" height="33" fill="#2c6e35"/>
<rect x="235.0" y="707" width="11.2" height="5" fill="#5a9a58"/>
<rect x="248.6" y="707" width="11.2" height="33" fill="#2c6e35"/>
<rect x="248.6" y="707" width="11.2" height="5" fill="#5a9a58"/>
<rect x="262.2" y="707" width="11.2" height="33" fill="#2c6e35"/>
<rect x="262.2" y="707" width="11.2" height="5" fill="#5a9a58"/>
<rect x="275.8" y="707" width="11.2" height="33" fill="#2c6e35"/>
<rect x="275.8" y="707" width="11.2" height="5" fill="#5a9a58"/>
<ellipse cx="67.6" cy="747.6" rx="7.8" ry="11" fill="#b6eea0"/>
<ellipse cx="67.6" cy="747.6" rx="6.5" ry="9.5" fill="#6ad83c"/>
<ellipse cx="108" cy="789.6" rx="7.4" ry="10.3" fill="#b6eea0"/>
<ellipse cx="108" cy="789.6" rx="6.1000000000000005" ry="8.8" fill="#6ad83c"/>
<ellipse cx="178.6" cy="789.6" rx="7.4" ry="10.3" fill="#b6eea0"/>
<ellipse cx="178.6" cy="789.6" rx="6.1000000000000005" ry="8.8" fill="#6ad83c"/>
<ellipse cx="196.3" cy="789.6" rx="7.4" ry="10.3" fill="#b6eea0"/>
<ellipse cx="196.3" cy="789.6" rx="6.1000000000000005" ry="8.8" fill="#6ad83c"/>
<ellipse cx="214" cy="789.6" rx="7.4" ry="10.3" fill="#b6eea0"/>
<ellipse cx="214" cy="789.6" rx="6.1000000000000005" ry="8.8" fill="#6ad83c"/>
<ellipse cx="231.4" cy="789.6" rx="7.4" ry="10.3" fill="#b6eea0"/>
<ellipse cx="231.4" cy="789.6" rx="6.1000000000000005" ry="8.8" fill="#6ad83c"/>
<ellipse cx="248.9" cy="789.6" rx="7.4" ry="10.3" fill="#b6eea0"/>
<ellipse cx="248.9" cy="789.6" rx="6.1000000000000005" ry="8.8" fill="#6ad83c"/>
<ellipse cx="266.5" cy="789.6" rx="7.4" ry="10.3" fill="#b6eea0"/>
<ellipse cx="266.5" cy="789.6" rx="6.1000000000000005" ry="8.8" fill="#6ad83c"/>
<ellipse cx="137" cy="789.6" rx="7.2" ry="10" fill="#f0b4a8"/>
<ellipse cx="137" cy="789.6" rx="5.9" ry="8.5" fill="#d01c14"/>
<rect x="318.75" y="674.5" width="100" height="86" fill="url(#gRJ)"/>
<ellipse cx="318.5" cy="688" rx="1.8" ry="3" fill="#e8e8e8"/><ellipse cx="419" cy="688" rx="1.8" ry="3" fill="#e8e8e8"/>
<path d="M323.4,702 L330.6,702 L330.6,693 L336.2,693 L336.2,682 L350.7,682 L350.7,693 L356.3,693 L356.3,702 L363.5,702 L363.5,737 L323.4,737 Z" fill="#141414"/>
<rect x="331.4" y="714" width="2.0" height="2.5" fill="#d9cfa0"/>
<rect x="331.4" y="734" width="2.0" height="2" fill="#8a8470"/>
<rect x="334.6" y="714" width="2.0" height="2.5" fill="#d9cfa0"/>
<rect x="334.6" y="734" width="2.0" height="2" fill="#8a8470"/>
<rect x="337.8" y="714" width="2.0" height="2.5" fill="#d9cfa0"/>
<rect x="337.8" y="734" width="2.0" height="2" fill="#8a8470"/>
<rect x="341.0" y="714" width="2.0" height="2.5" fill="#d9cfa0"/>
<rect x="341.0" y="734" width="2.0" height="2" fill="#8a8470"/>
<rect x="344.3" y="714" width="2.0" height="2.5" fill="#d9cfa0"/>
<rect x="344.3" y="734" width="2.0" height="2" fill="#8a8470"/>
<rect x="347.5" y="714" width="2.0" height="2.5" fill="#d9cfa0"/>
<rect x="347.5" y="734" width="2.0" height="2" fill="#8a8470"/>
<rect x="350.7" y="714" width="2.0" height="2.5" fill="#d9cfa0"/>
<rect x="350.7" y="734" width="2.0" height="2" fill="#8a8470"/>
<rect x="353.9" y="714" width="2.0" height="2.5" fill="#d9cfa0"/>
<rect x="353.9" y="734" width="2.0" height="2" fill="#8a8470"/>
<path d="M372,702 L379.2,702 L379.2,693 L384.8,693 L384.8,682 L399.2,682 L399.2,693 L404.8,693 L404.8,702 L412,702 L412,737 L372,737 Z" fill="#141414"/>
<rect x="380.0" y="714" width="2.0" height="2.5" fill="#d9cfa0"/>
<rect x="380.0" y="734" width="2.0" height="2" fill="#8a8470"/>
<rect x="383.2" y="714" width="2.0" height="2.5" fill="#d9cfa0"/>
<rect x="383.2" y="734" width="2.0" height="2" fill="#8a8470"/>
<rect x="386.4" y="714" width="2.0" height="2.5" fill="#d9cfa0"/>
<rect x="386.4" y="734" width="2.0" height="2" fill="#8a8470"/>
<rect x="389.6" y="714" width="2.0" height="2.5" fill="#d9cfa0"/>
<rect x="389.6" y="734" width="2.0" height="2" fill="#8a8470"/>
<rect x="392.8" y="714" width="2.0" height="2.5" fill="#d9cfa0"/>
<rect x="392.8" y="734" width="2.0" height="2" fill="#8a8470"/>
<rect x="396.0" y="714" width="2.0" height="2.5" fill="#d9cfa0"/>
<rect x="396.0" y="734" width="2.0" height="2" fill="#8a8470"/>
<rect x="399.2" y="714" width="2.0" height="2.5" fill="#d9cfa0"/>
<rect x="399.2" y="734" width="2.0" height="2" fill="#8a8470"/>
<rect x="402.4" y="714" width="2.0" height="2.5" fill="#d9cfa0"/>
<rect x="402.4" y="734" width="2.0" height="2" fill="#8a8470"/>
<rect x="437" y="675.5" width="48.5" height="84.5" fill="url(#gRJ)"/>
<path d="M442.3,705 L449.1,705 L449.1,696 L454.5,696 L454.5,685 L468.1,685 L468.1,696 L473.5,696 L473.5,705 L480.3,705 L480.3,740 L442.3,740 Z" fill="#141414"/>
<rect x="449.1" y="722" width="1.2" height="18" fill="#3a3a3a"/>
<rect x="452.9" y="722" width="1.2" height="18" fill="#3a3a3a"/>
<rect x="456.7" y="722" width="1.2" height="18" fill="#3a3a3a"/>
<rect x="460.5" y="722" width="1.2" height="18" fill="#3a3a3a"/>
<rect x="464.3" y="722" width="1.2" height="18" fill="#3a3a3a"/>
<rect x="468.1" y="722" width="1.2" height="18" fill="#3a3a3a"/>
<rect x="471.9" y="722" width="1.2" height="18" fill="#3a3a3a"/>
<rect x="502.5" y="677.5" width="102" height="83.5" fill="url(#gRJ)"/>
<ellipse cx="502.5" cy="688" rx="1.8" ry="3" fill="#e8e8e8"/>
<path d="M508.75,702 L516.2,702 L516.2,693 L522.0,693 L522.0,682 L536.8,682 L536.8,693 L542.6,693 L542.6,702 L550,702 L550,738 L508.75,738 Z" fill="#141414"/>
<rect x="517.0" y="714" width="2.1" height="2.5" fill="#d9cfa0"/>
<rect x="517.0" y="735" width="2.1" height="2" fill="#8a8470"/>
<rect x="520.3" y="714" width="2.1" height="2.5" fill="#d9cfa0"/>
<rect x="520.3" y="735" width="2.1" height="2" fill="#8a8470"/>
<rect x="523.6" y="714" width="2.1" height="2.5" fill="#d9cfa0"/>
<rect x="523.6" y="735" width="2.1" height="2" fill="#8a8470"/>
<rect x="526.9" y="714" width="2.1" height="2.5" fill="#d9cfa0"/>
<rect x="526.9" y="735" width="2.1" height="2" fill="#8a8470"/>
<rect x="530.2" y="714" width="2.1" height="2.5" fill="#d9cfa0"/>
<rect x="530.2" y="735" width="2.1" height="2" fill="#8a8470"/>
<rect x="533.5" y="714" width="2.1" height="2.5" fill="#d9cfa0"/>
<rect x="533.5" y="735" width="2.1" height="2" fill="#8a8470"/>
<rect x="536.8" y="714" width="2.1" height="2.5" fill="#d9cfa0"/>
<rect x="536.8" y="735" width="2.1" height="2" fill="#8a8470"/>
<rect x="540.1" y="714" width="2.1" height="2.5" fill="#d9cfa0"/>
<rect x="540.1" y="735" width="2.1" height="2" fill="#8a8470"/>
<path d="M557.5,702 L564.9,702 L564.9,693 L570.7,693 L570.7,682 L585.5,682 L585.5,693 L591.3,693 L591.3,702 L598.75,702 L598.75,738 L557.5,738 Z" fill="#141414"/>
<rect x="565.8" y="714" width="2.1" height="2.5" fill="#d9cfa0"/>
<rect x="565.8" y="735" width="2.1" height="2" fill="#8a8470"/>
<rect x="569.0" y="714" width="2.1" height="2.5" fill="#d9cfa0"/>
<rect x="569.0" y="735" width="2.1" height="2" fill="#8a8470"/>
<rect x="572.4" y="714" width="2.1" height="2.5" fill="#d9cfa0"/>
<rect x="572.4" y="735" width="2.1" height="2" fill="#8a8470"/>
<rect x="575.6" y="714" width="2.1" height="2.5" fill="#d9cfa0"/>
<rect x="575.6" y="735" width="2.1" height="2" fill="#8a8470"/>
<rect x="579.0" y="714" width="2.1" height="2.5" fill="#d9cfa0"/>
<rect x="579.0" y="735" width="2.1" height="2" fill="#8a8470"/>
<rect x="582.2" y="714" width="2.1" height="2.5" fill="#d9cfa0"/>
<rect x="582.2" y="735" width="2.1" height="2" fill="#8a8470"/>
<rect x="585.5" y="714" width="2.1" height="2.5" fill="#d9cfa0"/>
<rect x="585.5" y="735" width="2.1" height="2" fill="#8a8470"/>
<rect x="588.9" y="714" width="2.1" height="2.5" fill="#d9cfa0"/>
<rect x="588.9" y="735" width="2.1" height="2" fill="#8a8470"/>
</g>
<g id="acc">
<ellipse cx="761.8" cy="666.2" rx="54.1" ry="56.5" transform="rotate(-9.2 761.8 666.2)" fill="none" stroke="#cf4128" stroke-width="2.5"/>
<ellipse cx="760.8" cy="667.7" rx="55.4" ry="54.7" transform="rotate(-6.7 760.8 667.7)" fill="none" stroke="#1e0c0a" stroke-width="2.5"/>
<ellipse cx="759.4" cy="666.2" rx="58.1" ry="55.3" transform="rotate(-8.2 759.4 666.2)" fill="none" stroke="#e0553a" stroke-width="2.5"/>
<ellipse cx="762.1" cy="666.6" rx="57.6" ry="58.3" transform="rotate(-9.6 762.1 666.6)" fill="none" stroke="#dc4f34" stroke-width="2.5"/>
<ellipse cx="760.2" cy="665.2" rx="57.6" ry="56.7" transform="rotate(-3.5 760.2 665.2)" fill="none" stroke="#e0553a" stroke-width="2.5"/>
<ellipse cx="759.7" cy="666.4" rx="58.6" ry="56.5" transform="rotate(-4.3 759.7 666.4)" fill="none" stroke="#e0553a" stroke-width="2.5"/>
<ellipse cx="759.6" cy="665.3" rx="60.8" ry="57.9" transform="rotate(-7.5 759.6 665.3)" fill="none" stroke="#dc4f34" stroke-width="2.5"/>
<ellipse cx="761.3" cy="666.0" rx="60.5" ry="59.5" transform="rotate(-4.4 761.3 666.0)" fill="none" stroke="#1e0c0a" stroke-width="2.5"/>
<ellipse cx="759.9" cy="665.5" rx="61.9" ry="58.6" transform="rotate(-6.4 759.9 665.5)" fill="none" stroke="#e0553a" stroke-width="2.5"/>
<ellipse cx="762.6" cy="664.9" rx="62.5" ry="60.3" transform="rotate(-8.8 762.6 664.9)" fill="none" stroke="#dc4f34" stroke-width="2.5"/>
<ellipse cx="761.0" cy="667.3" rx="62.2" ry="60.1" transform="rotate(-3.7 761.0 667.3)" fill="none" stroke="#d64630" stroke-width="2.5"/>
<ellipse cx="760.9" cy="665.4" rx="64.3" ry="61.3" transform="rotate(-9.4 760.9 665.4)" fill="none" stroke="#cf4128" stroke-width="2.5"/>
<ellipse cx="762.8" cy="665.8" rx="65.6" ry="59.5" transform="rotate(-4.4 762.8 665.8)" fill="none" stroke="#d94a2e" stroke-width="2.5"/>
<ellipse cx="763.0" cy="666.7" rx="65.3" ry="60.9" transform="rotate(-4.7 763.0 666.7)" fill="none" stroke="#dc4f34" stroke-width="2.5"/>
<ellipse cx="760.2" cy="665.6" rx="65.7" ry="60.6" transform="rotate(-9.5 760.2 665.6)" fill="none" stroke="#1e0c0a" stroke-width="2.5"/>
<ellipse cx="760.6" cy="664.9" rx="67.2" ry="63.3" transform="rotate(-9.4 760.6 664.9)" fill="none" stroke="#cf4128" stroke-width="2.5"/>
<ellipse cx="761.4" cy="664.9" rx="67.2" ry="62.4" transform="rotate(-5.6 761.4 664.9)" fill="none" stroke="#d64630" stroke-width="2.5"/>
<ellipse cx="763.3" cy="666.1" rx="68.7" ry="62.2" transform="rotate(-9.3 763.3 666.1)" fill="none" stroke="#d64630" stroke-width="2.5"/>
<ellipse cx="761.1" cy="664.7" rx="69.9" ry="63.8" transform="rotate(-7.9 761.1 664.7)" fill="none" stroke="#e0553a" stroke-width="2.5"/>
<ellipse cx="760.9" cy="665.5" rx="71.0" ry="63.4" transform="rotate(-9.0 760.9 665.5)" fill="none" stroke="#d94a2e" stroke-width="2.5"/>
<ellipse cx="763.4" cy="665.9" rx="72.2" ry="64.3" transform="rotate(-3.0 763.4 665.9)" fill="none" stroke="#dc4f34" stroke-width="2.5"/>
<ellipse cx="761.8" cy="665.0" rx="71.1" ry="65.2" transform="rotate(-9.5 761.8 665.0)" fill="none" stroke="#dc4f34" stroke-width="2.5"/>
<ellipse cx="760.9" cy="664.4" rx="72.1" ry="64.8" transform="rotate(-9.6 760.9 664.4)" fill="none" stroke="#1e0c0a" stroke-width="2.5"/>
<ellipse cx="762.5" cy="665.3" rx="75.2" ry="66.1" transform="rotate(-9.4 762.5 665.3)" fill="none" stroke="#d94a2e" stroke-width="2.5"/>
<ellipse cx="762.7" cy="664.1" rx="74.0" ry="65.7" transform="rotate(-7.1 762.7 664.1)" fill="none" stroke="#e0553a" stroke-width="2.5"/>
<ellipse cx="761.3" cy="665.1" rx="76.9" ry="66.6" transform="rotate(-7.5 761.3 665.1)" fill="none" stroke="#d94a2e" stroke-width="2.5"/>
<ellipse cx="761.3" cy="664.6" rx="75.6" ry="68.0" transform="rotate(-8.7 761.3 664.6)" fill="none" stroke="#e0553a" stroke-width="2.5"/>
<ellipse cx="761.7" cy="666.4" rx="76.7" ry="68.1" transform="rotate(-2.7 761.7 666.4)" fill="none" stroke="#d94a2e" stroke-width="2.5"/>
<ellipse cx="762.1" cy="665.4" rx="76.7" ry="69.0" transform="rotate(-5.9 762.1 665.4)" fill="none" stroke="#dc4f34" stroke-width="2.5"/>
<ellipse cx="762.3" cy="664.1" rx="78.8" ry="68.4" transform="rotate(-4.9 762.3 664.1)" fill="none" stroke="#e0553a" stroke-width="2.5"/>
<ellipse cx="763.8" cy="666.3" rx="80.6" ry="69.8" transform="rotate(-3.5 763.8 666.3)" fill="none" stroke="#dc4f34" stroke-width="2.5"/>
<ellipse cx="763.6" cy="664.0" rx="80.4" ry="68.8" transform="rotate(-9.8 763.6 664.0)" fill="none" stroke="#1e0c0a" stroke-width="2.5"/>
<ellipse cx="763.9" cy="664.6" rx="80.2" ry="70.0" transform="rotate(-7.2 763.9 664.6)" fill="none" stroke="#d94a2e" stroke-width="2.5"/>
<ellipse cx="764.4" cy="664.3" rx="81.1" ry="69.3" transform="rotate(-8.4 764.4 664.3)" fill="none" stroke="#cf4128" stroke-width="2.5"/>
<ellipse cx="763.1" cy="666.1" rx="83.0" ry="69.1" transform="rotate(-2.7 763.1 666.1)" fill="none" stroke="#e0553a" stroke-width="2.5"/>
<ellipse cx="764.1" cy="663.3" rx="84.0" ry="72.3" transform="rotate(-3.7 764.1 663.3)" fill="none" stroke="#cf4128" stroke-width="2.5"/>
<ellipse cx="763.2" cy="663.5" rx="85.2" ry="71.0" transform="rotate(-3.6 763.2 663.5)" fill="none" stroke="#e0553a" stroke-width="2.5"/>
<ellipse cx="763.3" cy="665.2" rx="83.9" ry="70.9" transform="rotate(-2.1 763.3 665.2)" fill="none" stroke="#d64630" stroke-width="2.5"/>
<ellipse cx="762.0" cy="664.7" rx="85.8" ry="72.9" transform="rotate(-5.1 762.0 664.7)" fill="none" stroke="#1e0c0a" stroke-width="2.5"/>
<ellipse cx="765.0" cy="664.8" rx="86.3" ry="73.0" transform="rotate(-9.0 765.0 664.8)" fill="none" stroke="#dc4f34" stroke-width="2.5"/>
<ellipse cx="764.5" cy="665.0" rx="86.3" ry="74.0" transform="rotate(-8.9 764.5 665.0)" fill="none" stroke="#d94a2e" stroke-width="2.5"/>
<ellipse cx="764.7" cy="663.4" rx="87.6" ry="73.1" transform="rotate(-8.1 764.7 663.4)" fill="none" stroke="#e0553a" stroke-width="2.5"/>
<ellipse cx="763.2" cy="664.3" rx="90.1" ry="72.8" transform="rotate(-4.1 763.2 664.3)" fill="none" stroke="#dc4f34" stroke-width="2.5"/>
<ellipse cx="764.3" cy="665.1" rx="90.0" ry="75.6" transform="rotate(-3.0 764.3 665.1)" fill="none" stroke="#d64630" stroke-width="2.5"/>
<ellipse cx="762.8" cy="663.0" rx="90.7" ry="76.2" transform="rotate(-3.8 762.8 663.0)" fill="none" stroke="#1e0c0a" stroke-width="2.5"/>
<ellipse cx="762.5" cy="664.9" rx="90.5" ry="75.4" transform="rotate(-4.2 762.5 664.9)" fill="none" stroke="#dc4f34" stroke-width="2.5"/>
<path d="M812.0,612.0 C842.0,637.0 841.2,676.8 836.2,716.8" fill="none" stroke="#d4472e" stroke-width="2.1"/>
<path d="M815.2,613.5 C845.2,638.5 843.3,683.7 838.3,723.7" fill="none" stroke="#d4472e" stroke-width="2.1"/>
<path d="M818.4,615.0 C848.4,640.0 846.5,670.2 841.5,710.2" fill="none" stroke="#200c0a" stroke-width="2.1"/>
<path d="M821.6,616.5 C851.6,641.5 847.8,674.5 842.8,714.5" fill="none" stroke="#d4472e" stroke-width="2.1"/>
<path d="M824.8,618.0 C854.8,643.0 848.9,690.2 843.9,730.2" fill="none" stroke="#d4472e" stroke-width="2.1"/>
<path d="M828.0,619.5 C858.0,644.5 852.0,683.9 847.0,723.9" fill="none" stroke="#d4472e" stroke-width="2.1"/>
<path d="M831.2,621.0 C861.2,646.0 855.2,694.4 850.2,734.4" fill="none" stroke="#200c0a" stroke-width="2.1"/>
<path d="M834.4,622.5 C864.4,647.5 856.2,685.4 851.2,725.4" fill="none" stroke="#d4472e" stroke-width="2.1"/>
<path d="M837.6,624.0 C867.6,649.0 858.6,682.4 853.6,722.4" fill="none" stroke="#d4472e" stroke-width="2.1"/>
<path d="M840.8,625.5 C870.8,650.5 861.6,680.6 856.6,720.6" fill="none" stroke="#d4472e" stroke-width="2.1"/>
<path d="M844.0,627.0 C874.0,652.0 863.1,681.3 858.1,721.3" fill="none" stroke="#d4472e" stroke-width="2.1"/>
<path d="M847.2,628.5 C877.2,653.5 867.0,688.0 862.0,728.0" fill="none" stroke="#200c0a" stroke-width="2.1"/>
<path d="M850.4,630.0 C880.4,655.0 868.9,695.3 863.9,735.3" fill="none" stroke="#d4472e" stroke-width="2.1"/>
<path d="M853.6,631.5 C883.6,656.5 868.6,683.8 863.6,723.8" fill="none" stroke="#d4472e" stroke-width="2.1"/>
<rect x="797" y="623" width="15" height="9" fill="#f4f4f2" stroke="#cfcfcb" stroke-width="0.6" transform="rotate(-35 804 627)"/>
<rect x="799" y="636" width="10" height="8" fill="#efefed" stroke="#cfcfcb" stroke-width="0.6" transform="rotate(-20 804 640)"/>
<rect x="817" y="655" width="4" height="8" fill="#f4f4f2"/><rect x="826" y="650" width="4" height="9" fill="#f4f4f2"/><rect x="819" y="672" width="4" height="7" fill="#f4f4f2"/>
<path d="M988,598 C1000,603 1000,611 1016,612 L1224,612" fill="none" stroke="#282d4a" stroke-width="12"/>
<path d="M988,598 C1000,603 1000,611 1016,612 L1224,612" fill="none" stroke="#47507a" stroke-width="0.9" opacity="0.75" transform="translate(0,-3.2)"/>
<path d="M988,598 C1000,603 1000,611 1016,612 L1224,612" fill="none" stroke="#47507a" stroke-width="0.9" opacity="0.75" transform="translate(0,0)"/>
<path d="M988,598 C1000,603 1000,611 1016,612 L1224,612" fill="none" stroke="#47507a" stroke-width="0.9" opacity="0.75" transform="translate(0,3.2)"/>
<path d="M998,645 C1040,645 1120,652 1224,667" fill="none" stroke="#282d4a" stroke-width="13"/>
<path d="M998,645 C1040,645 1120,652 1224,667" fill="none" stroke="#47507a" stroke-width="0.9" opacity="0.75" transform="translate(0,-3.2)"/>
<path d="M998,645 C1040,645 1120,652 1224,667" fill="none" stroke="#47507a" stroke-width="0.9" opacity="0.75" transform="translate(0,0)"/>
<path d="M998,645 C1040,645 1120,652 1224,667" fill="none" stroke="#47507a" stroke-width="0.9" opacity="0.75" transform="translate(0,3.2)"/>
<rect x="960" y="588" width="29" height="37" fill="#f4f4f2" stroke="#d3d3cf" stroke-width="1"/>
<rect x="962" y="590" width="6" height="33" fill="#e0e0dc"/>
<path d="M945,662 L1000,662 L1005,672 L950,676 Z" fill="#8e8e90" opacity="0.45"/>
<path d="M990,612 Q1000,622 1010,628 L990,630 Z" fill="#7a7a7c" opacity="0.5"/>
<rect x="951" y="625" width="33" height="41" fill="#4a5168"/>
<line x1="956.0" y1="627" x2="956.0" y2="664" stroke="#b8c2d6" stroke-width="1.3"/>
<line x1="960.6" y1="627" x2="960.6" y2="664" stroke="#b8c2d6" stroke-width="1.3"/>
<line x1="965.2" y1="627" x2="965.2" y2="664" stroke="#b8c2d6" stroke-width="1.3"/>
<line x1="969.8" y1="627" x2="969.8" y2="664" stroke="#b8c2d6" stroke-width="1.3"/>
<line x1="974.4" y1="627" x2="974.4" y2="664" stroke="#b8c2d6" stroke-width="1.3"/>
<line x1="979.0" y1="627" x2="979.0" y2="664" stroke="#b8c2d6" stroke-width="1.3"/>
<rect x="966" y="626" width="14" height="14" fill="#6f95c8" opacity="0.55"/>
<path d="M937,624 L944,617 L953,619 L953,668 L944,670 L937,664 Z" fill="#dfe2e6"/>
<ellipse cx="947" cy="644" rx="6" ry="20" fill="#7c8290"/>
<ellipse cx="946" cy="644" rx="3.5" ry="14" fill="#b3b7bf"/>
<ellipse cx="952" cy="644" rx="5" ry="22" fill="none" stroke="#2c3550" stroke-width="2.6"/>
<rect x="982" y="628" width="18" height="40" fill="#f2f2f0" stroke="#d4d4d0" stroke-width="0.8"/>
<path d="M1028,760 C1080,751 1150,752 1185,775 C1222,800 1212,840 1170,851 C1130,860 1080,853 1046,851" fill="none" stroke="#2a2d3f" stroke-width="13.5"/>
<path d="M1028,760 C1080,751 1150,752 1185,775 C1222,800 1212,840 1170,851 C1130,860 1080,853 1046,851" fill="none" stroke="#4b4f66" stroke-width="1.5" opacity="0.7" transform="translate(0,-3)"/>
<line x1="996" y1="759.0" x2="1029" y2="755.0" stroke="#d9356a" stroke-width="2"/>
<line x1="996" y1="762.5" x2="1029" y2="756.4" stroke="#d9356a" stroke-width="2"/>
<line x1="996" y1="766.0" x2="1029" y2="757.8" stroke="#d9356a" stroke-width="2"/>
<line x1="996" y1="769.5" x2="1029" y2="759.2" stroke="#d9356a" stroke-width="2"/>
<line x1="996" y1="773.0" x2="1029" y2="760.6" stroke="#d9356a" stroke-width="2"/>
<line x1="996" y1="776.5" x2="1029" y2="762.0" stroke="#d9356a" stroke-width="2"/>
<line x1="996" y1="780.0" x2="1029" y2="763.4" stroke="#d9356a" stroke-width="2"/>
<line x1="996" y1="783.5" x2="1029" y2="764.8" stroke="#d9356a" stroke-width="2"/>
<line x1="996" y1="787.0" x2="1029" y2="766.2" stroke="#d9356a" stroke-width="2"/>
<line x1="1012" y1="823.0" x2="1048" y2="844.0" stroke="#d9356a" stroke-width="2.2"/>
<line x1="1012" y1="827.6" x2="1048" y2="845.6" stroke="#d9356a" stroke-width="2.2"/>
<line x1="1012" y1="832.2" x2="1048" y2="847.2" stroke="#d9356a" stroke-width="2.2"/>
<line x1="1012" y1="836.8" x2="1048" y2="848.8" stroke="#d9356a" stroke-width="2.2"/>
<line x1="1012" y1="841.4" x2="1048" y2="850.4" stroke="#d9356a" stroke-width="2.2"/>
<line x1="1012" y1="846.0" x2="1048" y2="852.0" stroke="#d9356a" stroke-width="2.2"/>
<line x1="1012" y1="850.6" x2="1048" y2="853.6" stroke="#d9356a" stroke-width="2.2"/>
<line x1="1012" y1="855.2" x2="1048" y2="855.2" stroke="#d9356a" stroke-width="2.2"/>
<line x1="1012" y1="859.8" x2="1048" y2="856.8" stroke="#d9356a" stroke-width="2.2"/>
<path d="M967,762 L976,756 L976,792 L967,790 Z" fill="#b5b5b8" opacity="0.7"/>
<rect x="975" y="755" width="21" height="37" fill="#f1f1f3" stroke="#cfcfd6" stroke-width="1"/>
<rect x="979" y="759.0" width="5" height="1.6" fill="#9a9aa6"/>
<rect x="979" y="762.6" width="5" height="1.6" fill="#9a9aa6"/>
<rect x="979" y="766.2" width="5" height="1.6" fill="#9a9aa6"/>
<rect x="979" y="769.8" width="5" height="1.6" fill="#9a9aa6"/>
<rect x="979" y="773.4" width="5" height="1.6" fill="#9a9aa6"/>
<rect x="979" y="777.0" width="5" height="1.6" fill="#9a9aa6"/>
<rect x="979" y="780.6" width="5" height="1.6" fill="#9a9aa6"/>
<rect x="979" y="784.2" width="5" height="1.6" fill="#9a9aa6"/>
<rect x="979" y="787.8" width="5" height="1.6" fill="#9a9aa6"/>
<path d="M984,826 L993,819 L993,864 L984,858 Z" fill="#b9b9bc" opacity="0.7"/>
<rect x="993" y="819" width="20" height="46" fill="#f3f3f4" stroke="#d3d3d8" stroke-width="1"/>
<ellipse cx="301.5" cy="972" rx="51" ry="45" fill="none" stroke="#2474bc" stroke-width="6.4"/>
<ellipse cx="301.5" cy="972" rx="48.8" ry="42.8" fill="none" stroke="#3a8bd0" stroke-width="1" opacity="0.6"/>
<ellipse cx="302" cy="972.2" rx="44.8" ry="39.3" fill="none" stroke="#2474bc" stroke-width="6.4"/>
<ellipse cx="302" cy="972.2" rx="42.599999999999994" ry="37.099999999999994" fill="none" stroke="#3a8bd0" stroke-width="1" opacity="0.6"/>
<ellipse cx="303" cy="972.5" rx="38.6" ry="33.6" fill="none" stroke="#2474bc" stroke-width="6.4"/>
<ellipse cx="303" cy="972.5" rx="36.4" ry="31.400000000000002" fill="none" stroke="#3a8bd0" stroke-width="1" opacity="0.6"/>
<linearGradient id="gGig" gradientUnits="userSpaceOnUse" x1="250" y1="0" x2="320" y2="0"><stop offset="0" stop-color="#fff" stop-opacity="1"/><stop offset="0.6" stop-color="#fff" stop-opacity="0.6"/><stop offset="1" stop-color="#fff" stop-opacity="0"/></linearGradient>
<ellipse cx="301.75" cy="972.1" rx="47.9" ry="42.15" fill="none" stroke="url(#gGig)" stroke-width="1.1"/>
<ellipse cx="302.5" cy="972.35" rx="41.7" ry="36.45" fill="none" stroke="url(#gGig)" stroke-width="1.1"/>
<path d="M240,927 L304,927" stroke="#2474bc" stroke-width="6"/>
<path d="M240,1016 L304,1016" stroke="#2474bc" stroke-width="6"/>
<rect x="170.5" y="920.5" width="23" height="15" fill="#eef0f2" stroke="#c9ccd0" stroke-width="0.8"/>
<rect x="175" y="924.5" width="16" height="2" fill="#e6b9a0"/>
<rect x="175" y="928.5" width="16" height="2" fill="#b9c8d8"/>
<path d="M193,919.5 L209,919.5 L209,920.5 L242,923.5 L242,932.5 L209,935.5 L193,935.5 Z" fill="#1f6fbb"/>
<rect x="222" y="922.5" width="1.4" height="11" fill="#15538f"/>
<rect x="227" y="922.5" width="1.4" height="11" fill="#15538f"/>
<rect x="232" y="922.5" width="1.4" height="11" fill="#15538f"/>
<rect x="237" y="922.5" width="1.4" height="11" fill="#15538f"/>
<rect x="170.5" y="1009.5" width="23" height="15" fill="#eef0f2" stroke="#c9ccd0" stroke-width="0.8"/>
<rect x="175" y="1013.5" width="16" height="2" fill="#e6b9a0"/>
<rect x="175" y="1017.5" width="16" height="2" fill="#b9c8d8"/>
<path d="M193,1008.5 L209,1008.5 L209,1009.5 L242,1012.5 L242,1021.5 L209,1024.5 L193,1024.5 Z" fill="#1f6fbb"/>
<rect x="222" y="1011.5" width="1.4" height="11" fill="#15538f"/>
<rect x="227" y="1011.5" width="1.4" height="11" fill="#15538f"/>
<rect x="232" y="1011.5" width="1.4" height="11" fill="#15538f"/>
<rect x="237" y="1011.5" width="1.4" height="11" fill="#15538f"/>
<path d="M767,915.5 C730,928 680,940 636,947 C600,951 560,951 533,952 C522,953 522,962 532,966 C550,974 570,980 584,980 C610,975 640,958 662,953 C690,955 730,975 754,984 C764,989 760,994 748,996 C720,1000 690,1003 658,1003 C620,1002 590,1000 564,999" fill="none" stroke="#e23a48" stroke-width="4.2" stroke-linejoin="round"/>
<path d="M596,976 C615,970 640,958 662,953 C690,955 715,965 728,970" fill="none" stroke="#505050" stroke-width="2" opacity="0.6" transform="translate(0,-2.9)"/>
<path d="M564,999 L536,994" stroke="#1a1a1a" stroke-width="5"/>
<circle cx="531" cy="993" r="4.5" fill="none" stroke="#2a2a2a" stroke-width="2.2"/>
<circle cx="768" cy="915" r="1.6" fill="#555"/>
<path d="M935,977 C960,966 990,955 1020,954 C1070,953 1120,958 1176,962" fill="none" stroke="#d42a3e" stroke-width="17"/>
<path d="M936,970 C960,959 990,948 1020,947 C1070,946 1120,951 1176,955" fill="none" stroke="#9a1f2c" stroke-width="3" opacity="0.6"/>
<path d="M940,983 C965,972 990,962 1020,961 C1070,960 1120,965 1176,969" fill="none" stroke="#e85a68" stroke-width="2" opacity="0.5"/>
<path d="M904,966 L933,961 L935,989 L906,992 Z" fill="#d42a3e"/>
<path d="M1174,951 L1200,951 L1207,972 L1176,974 Z" fill="#cf2a3c"/>
<path d="M887,973 L905,967 L907,988 L889,987 Z" fill="#bdbcb8"/>
<circle cx="895" cy="979" r="3.5" fill="#7a7975"/>
<path d="M1204,955 L1217,958 L1220,978 L1208,983 Z" fill="#bdbcb8"/>
<circle cx="1212" cy="969" r="4" fill="#f4f4f4" stroke="#7a7975" stroke-width="1.5"/>
<path d="M205,1123 L212,1118 L212,1190 L222,1190 L222,1160 L212,1160" fill="#3c8f38"/>
<path d="M205,1123 L212,1118 L212,1180 L205,1176 Z" fill="#4a9e44"/>
<path d="M212,1117 L300,1111 L302,1158 L212,1161 Z" fill="#74d36e"/>
<path d="M212,1117 L300,1111 L300,1125 L212,1130 Z" fill="#8fe08a"/>
<path d="M214,1113 L300,1108 L301,1112 L213,1118 Z" fill="#a6e8a2"/>
<rect x="226.6" y="1126.5" width="11" height="5" fill="#a4e89e" stroke="#4aa845" stroke-width="0.8"/>
<path d="M223.1,1146 A9.5,9.5 0 0 0 242.1,1146 L242.1,1152 L223.1,1152 Z" fill="#2f7f2c"/>
<circle cx="232.6" cy="1142" r="8.6" fill="#4fae4a"/>
<circle cx="232.6" cy="1142" r="7" fill="#b27ad6"/>
<circle cx="231.1" cy="1140.5" r="3" fill="#c99ae4"/>
<rect x="246.1" y="1126.0" width="11" height="5" fill="#a4e89e" stroke="#4aa845" stroke-width="0.8"/>
<path d="M242.6,1146 A9.5,9.5 0 0 0 261.6,1146 L261.6,1152 L242.6,1152 Z" fill="#2f7f2c"/>
<circle cx="252.1" cy="1142" r="8.6" fill="#4fae4a"/>
<circle cx="252.1" cy="1142" r="7" fill="#b27ad6"/>
<circle cx="250.6" cy="1140.5" r="3" fill="#c99ae4"/>
<rect x="265.2" y="1125.5" width="11" height="5" fill="#a4e89e" stroke="#4aa845" stroke-width="0.8"/>
<path d="M261.7,1146 A9.5,9.5 0 0 0 280.7,1146 L280.7,1152 L261.7,1152 Z" fill="#2f7f2c"/>
<circle cx="271.2" cy="1142" r="8.6" fill="#4fae4a"/>
<circle cx="271.2" cy="1142" r="7" fill="#b27ad6"/>
<circle cx="269.7" cy="1140.5" r="3" fill="#c99ae4"/>
<rect x="284.2" y="1125.0" width="11" height="5" fill="#a4e89e" stroke="#4aa845" stroke-width="0.8"/>
<path d="M280.7,1146 A9.5,9.5 0 0 0 299.7,1146 L299.7,1152 L280.7,1152 Z" fill="#2f7f2c"/>
<circle cx="290.2" cy="1142" r="8.6" fill="#4fae4a"/>
<circle cx="290.2" cy="1142" r="7" fill="#b27ad6"/>
<circle cx="288.7" cy="1140.5" r="3" fill="#c99ae4"/>
<path d="M212,1150 L302,1148 L302,1158 L212,1161 Z" fill="#3f9c3a"/>
<path d="M223.1,1146 A9.5,9.5 0 0 0 242.1,1146" fill="none" stroke="#6fcf68" stroke-width="2.2"/>
<path d="M242.6,1146 A9.5,9.5 0 0 0 261.6,1146" fill="none" stroke="#6fcf68" stroke-width="2.2"/>
<path d="M261.7,1146 A9.5,9.5 0 0 0 280.7,1146" fill="none" stroke="#6fcf68" stroke-width="2.2"/>
<path d="M280.7,1146 A9.5,9.5 0 0 0 299.7,1146" fill="none" stroke="#6fcf68" stroke-width="2.2"/>
<rect x="221.3" y="1158" width="17.7" height="31" fill="#2c6e2a"/>
<rect x="223.3" y="1158" width="13.7" height="30" fill="#5ec75a"/>
<rect x="223.3" y="1158" width="3" height="30" fill="#3f9a3a"/>
<rect x="229.7" y="1176" width="2.2" height="12" fill="#2e7a2a"/>
<rect x="238" y="1158" width="20.5" height="31" fill="#2c6e2a"/>
<rect x="240" y="1158" width="16.5" height="30" fill="#5ec75a"/>
<rect x="240" y="1158" width="3" height="30" fill="#3f9a3a"/>
<rect x="247.8" y="1176" width="2.2" height="12" fill="#2e7a2a"/>
<rect x="256.5" y="1158" width="21.0" height="31" fill="#2c6e2a"/>
<rect x="258.5" y="1158" width="17.0" height="30" fill="#5ec75a"/>
<rect x="258.5" y="1158" width="3" height="30" fill="#3f9a3a"/>
<rect x="266.5" y="1176" width="2.2" height="12" fill="#2e7a2a"/>
<rect x="275.5" y="1158" width="20.5" height="31" fill="#2c6e2a"/>
<rect x="277.5" y="1158" width="16.5" height="30" fill="#5ec75a"/>
<rect x="277.5" y="1158" width="3" height="30" fill="#3f9a3a"/>
<rect x="285.2" y="1176" width="2.2" height="12" fill="#2e7a2a"/>
<path d="M719,1093 C680,1085 620,1078 580,1079 C520,1082 494,1105 494,1129 C494,1160 540,1172 600,1177 C640,1180 680,1184 710,1184" fill="none" stroke="#23252c" stroke-width="13.5"/>
<path d="M719,1093 C680,1085 620,1078 580,1079 C520,1082 494,1105 494,1129 C494,1160 540,1172 600,1177 C640,1180 680,1184 710,1184" fill="none" stroke="#3c3f49" stroke-width="1.5" opacity="0.7" transform="translate(0,-3)"/>
<line x1="718" y1="1088.0" x2="745" y2="1086.0" stroke="#d62e55" stroke-width="2.2"/>
<line x1="718" y1="1090.2" x2="745" y2="1090.2" stroke="#d62e55" stroke-width="2.2"/>
<line x1="718" y1="1092.4" x2="745" y2="1094.4" stroke="#d62e55" stroke-width="2.2"/>
<line x1="718" y1="1094.6" x2="745" y2="1098.6" stroke="#d62e55" stroke-width="2.2"/>
<line x1="718" y1="1096.8" x2="745" y2="1102.8" stroke="#d62e55" stroke-width="2.2"/>
<line x1="718" y1="1099.0" x2="745" y2="1107.0" stroke="#d62e55" stroke-width="2.2"/>
<line x1="709" y1="1178.0" x2="737" y2="1176.0" stroke="#d62e55" stroke-width="2.2"/>
<line x1="709" y1="1180.0" x2="737" y2="1179.6" stroke="#d62e55" stroke-width="2.2"/>
<line x1="709" y1="1182.0" x2="737" y2="1183.2" stroke="#d62e55" stroke-width="2.2"/>
<line x1="709" y1="1184.0" x2="737" y2="1186.8" stroke="#d62e55" stroke-width="2.2"/>
<line x1="709" y1="1186.0" x2="737" y2="1190.4" stroke="#d62e55" stroke-width="2.2"/>
<line x1="709" y1="1188.0" x2="737" y2="1194.0" stroke="#d62e55" stroke-width="2.2"/>
<rect x="733" y="1078" width="27" height="33" fill="#f2f2f2" stroke="#d6d6d6" stroke-width="1"/>
<rect x="735" y="1077" width="14" height="6" fill="#dcdcdc"/>
<rect x="722" y="1166" width="33" height="32" fill="#f2f2f2" stroke="#d6d6d6" stroke-width="1"/>
<rect x="724" y="1165" width="14" height="6" fill="#dcdcdc"/>
<path d="M935,1081 L1218,1086 Q1232,1088 1232,1100 L1236,1125 Q1240,1134 1230,1136 L1152,1151 L1152,1177 L952,1177 Q948,1177 948,1172 L948,1128 L935,1128 Z" fill="#e1dfdd"/>
<line x1="936" y1="1083.0" x2="1230" y2="1087.0" stroke="#c8c6c4" stroke-width="0.6"/>
<line x1="936" y1="1085.1" x2="1230" y2="1089.1" stroke="#c8c6c4" stroke-width="0.6"/>
<line x1="936" y1="1087.2" x2="1230" y2="1091.2" stroke="#c8c6c4" stroke-width="0.6"/>
<line x1="936" y1="1089.3" x2="1230" y2="1093.3" stroke="#c8c6c4" stroke-width="0.6"/>
<line x1="936" y1="1091.4" x2="1230" y2="1095.4" stroke="#c8c6c4" stroke-width="0.6"/>
<line x1="936" y1="1093.5" x2="1230" y2="1097.5" stroke="#c8c6c4" stroke-width="0.6"/>
<line x1="936" y1="1095.6" x2="1230" y2="1099.6" stroke="#c8c6c4" stroke-width="0.6"/>
<line x1="936" y1="1097.7" x2="1230" y2="1101.7" stroke="#c8c6c4" stroke-width="0.6"/>
<line x1="936" y1="1099.8" x2="1230" y2="1103.8" stroke="#c8c6c4" stroke-width="0.6"/>
<line x1="936" y1="1101.9" x2="1230" y2="1105.9" stroke="#c8c6c4" stroke-width="0.6"/>
<line x1="936" y1="1104.0" x2="1230" y2="1108.0" stroke="#c8c6c4" stroke-width="0.6"/>
<line x1="936" y1="1106.1" x2="1230" y2="1110.1" stroke="#c8c6c4" stroke-width="0.6"/>
<line x1="936" y1="1108.2" x2="1230" y2="1112.2" stroke="#c8c6c4" stroke-width="0.6"/>
<line x1="936" y1="1110.3" x2="1230" y2="1114.3" stroke="#c8c6c4" stroke-width="0.6"/>
<line x1="936" y1="1112.4" x2="1230" y2="1116.4" stroke="#c8c6c4" stroke-width="0.6"/>
<line x1="936" y1="1114.5" x2="1230" y2="1118.5" stroke="#c8c6c4" stroke-width="0.6"/>
<line x1="936" y1="1116.6" x2="1230" y2="1120.6" stroke="#c8c6c4" stroke-width="0.6"/>
<line x1="936" y1="1118.7" x2="1230" y2="1122.7" stroke="#c8c6c4" stroke-width="0.6"/>
<line x1="936" y1="1120.8" x2="1230" y2="1124.8" stroke="#c8c6c4" stroke-width="0.6"/>
<line x1="936" y1="1122.9" x2="1230" y2="1126.9" stroke="#c8c6c4" stroke-width="0.6"/>
<line x1="936" y1="1125.0" x2="1230" y2="1129.0" stroke="#c8c6c4" stroke-width="0.6"/>
<line x1="936" y1="1127.1" x2="1230" y2="1131.1" stroke="#c8c6c4" stroke-width="0.6"/>
<line x1="949" y1="1131.0" x2="1150" y2="1129.0" stroke="#c8c6c4" stroke-width="0.6"/>
<line x1="949" y1="1133.3" x2="1150" y2="1131.3" stroke="#c8c6c4" stroke-width="0.6"/>
<line x1="949" y1="1135.6" x2="1150" y2="1133.6" stroke="#c8c6c4" stroke-width="0.6"/>
<line x1="949" y1="1137.9" x2="1150" y2="1135.9" stroke="#c8c6c4" stroke-width="0.6"/>
<line x1="949" y1="1140.2" x2="1150" y2="1138.2" stroke="#c8c6c4" stroke-width="0.6"/>
<line x1="949" y1="1142.5" x2="1150" y2="1140.5" stroke="#c8c6c4" stroke-width="0.6"/>
<line x1="949" y1="1144.8" x2="1150" y2="1142.8" stroke="#c8c6c4" stroke-width="0.6"/>
<line x1="949" y1="1147.1" x2="1150" y2="1145.1" stroke="#c8c6c4" stroke-width="0.6"/>
<line x1="949" y1="1149.4" x2="1150" y2="1147.4" stroke="#c8c6c4" stroke-width="0.6"/>
<line x1="949" y1="1151.7" x2="1150" y2="1149.7" stroke="#c8c6c4" stroke-width="0.6"/>
<line x1="949" y1="1154.0" x2="1150" y2="1152.0" stroke="#c8c6c4" stroke-width="0.6"/>
<line x1="949" y1="1156.3" x2="1150" y2="1154.3" stroke="#c8c6c4" stroke-width="0.6"/>
<line x1="949" y1="1158.6" x2="1150" y2="1156.6" stroke="#c8c6c4" stroke-width="0.6"/>
<line x1="949" y1="1160.9" x2="1150" y2="1158.9" stroke="#c8c6c4" stroke-width="0.6"/>
<line x1="949" y1="1163.2" x2="1150" y2="1161.2" stroke="#c8c6c4" stroke-width="0.6"/>
<line x1="949" y1="1165.5" x2="1150" y2="1163.5" stroke="#c8c6c4" stroke-width="0.6"/>
<line x1="949" y1="1167.8" x2="1150" y2="1165.8" stroke="#c8c6c4" stroke-width="0.6"/>
<line x1="949" y1="1170.1" x2="1150" y2="1168.1" stroke="#c8c6c4" stroke-width="0.6"/>
<line x1="949" y1="1172.4" x2="1150" y2="1170.4" stroke="#c8c6c4" stroke-width="0.6"/>
<line x1="949" y1="1174.7" x2="1150" y2="1172.7" stroke="#c8c6c4" stroke-width="0.6"/>
<path d="M940,1127.5 L1226,1128 Q1240,1128 1234,1133 L1130,1150 L950,1176" fill="none" stroke="#de64ac" stroke-width="1.4"/>
<text x="1018" y="1121" font-family="Liberation Mono" font-size="8" fill="#8a8886" letter-spacing="1">-DD9  JSWAC  VXXV  JHDC  1SS0C  WH-1  1SSI</text>
<text x="1053" y="1172" font-family="Liberation Mono" font-size="8" fill="#8a8886" letter-spacing="1">-DD9  JSWAC</text>
<rect x="917" y="1067" width="19" height="73" fill="#25262a"/>
<rect x="921" y="1074.0" width="3.5" height="3.5" fill="#0e0e10"/>
<rect x="928" y="1074.0" width="3.5" height="3.5" fill="#0e0e10"/>
<rect x="921" y="1081.6" width="3.5" height="3.5" fill="#0e0e10"/>
<rect x="928" y="1081.6" width="3.5" height="3.5" fill="#0e0e10"/>
<rect x="921" y="1089.2" width="3.5" height="3.5" fill="#0e0e10"/>
<rect x="928" y="1089.2" width="3.5" height="3.5" fill="#0e0e10"/>
<rect x="921" y="1096.8" width="3.5" height="3.5" fill="#0e0e10"/>
<rect x="928" y="1096.8" width="3.5" height="3.5" fill="#0e0e10"/>
<rect x="921" y="1104.4" width="3.5" height="3.5" fill="#0e0e10"/>
<rect x="928" y="1104.4" width="3.5" height="3.5" fill="#0e0e10"/>
<rect x="921" y="1112.0" width="3.5" height="3.5" fill="#0e0e10"/>
<rect x="928" y="1112.0" width="3.5" height="3.5" fill="#0e0e10"/>
<rect x="921" y="1119.6" width="3.5" height="3.5" fill="#0e0e10"/>
<rect x="928" y="1119.6" width="3.5" height="3.5" fill="#0e0e10"/>
<rect x="921" y="1127.2" width="3.5" height="3.5" fill="#0e0e10"/>
<rect x="928" y="1127.2" width="3.5" height="3.5" fill="#0e0e10"/>
<rect x="1128" y="1146" width="24" height="41" fill="#2c2d31"/>
<rect x="1132" y="1148" width="4" height="36" fill="#55565a"/>
<rect x="1120" y="1179" width="30" height="8" fill="#3a3b3f"/>
</g>
<g id="labels">
<text class="lb" font-size="40.0" transform="translate(158.25,882.5) scale(0.9848,1)">interface board*1</text>
<text class="lb" font-size="27.5" transform="translate(643.65,784.5) scale(1.0484,1)">85cm cell sampling</text>
<text class="lb" font-size="27.5" transform="translate(690.17,818.4) scale(1.0320,1)">cable harness</text>
<text class="lb" font-size="27.5" transform="translate(770.50,853.5) scale(1.0885,1)">*4</text>
<text class="lb" font-size="27.5" transform="translate(920.40,722.3) scale(1.0731,1)">45cm Activate Button*1</text>
<text class="lb" font-size="27.5" transform="translate(976.49,913.6) scale(1.0548,1)">10P flat cable*1</text>
<text class="lb" font-size="27.5" transform="translate(140.54,1061.0) scale(1.0645,1)">Gigabit cable*1</text>
<text class="lb" font-size="27.5" transform="translate(473.54,1053.4) scale(1.0647,1)">50cm connecting wire*1</text>
<text class="lb" font-size="27.5" transform="translate(881.37,1040.7) scale(1.0643,1)">17cm connecting wire*1</text>
<text class="lb" font-size="27.5" transform="translate(83.05,1235.8) scale(1.0729,1)">Dry Contact Terminal*1</text>
<text class="lb" font-size="27.5" transform="translate(524.24,1244.1) scale(1.0614,1)">6P flat cable*1</text>
<text class="lb" font-size="27.5" transform="translate(939.00,1239.6) scale(1.0605,1)">40cm flat cable*1</text>
</g>
</svg>
</body></html>
